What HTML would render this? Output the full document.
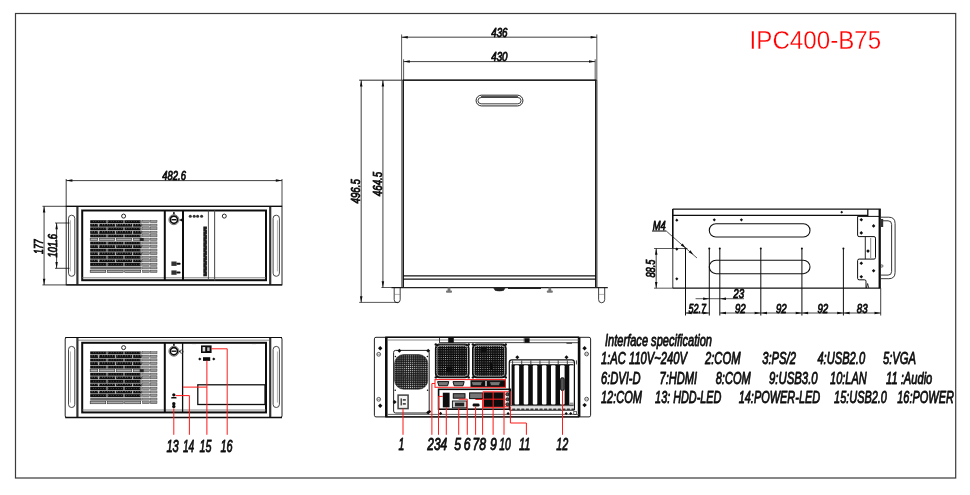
<!DOCTYPE html>
<html lang="en">
<head>
<meta charset="utf-8">
<title>IPC400-B75</title>
<style>
html,body{margin:0;padding:0;background:#fff;}
body{width:970px;height:495px;overflow:hidden;}
svg{display:block;}
.t{font-family:"Liberation Sans","DejaVu Sans",sans-serif;font-style:italic;fill:#111;stroke:#111;stroke-width:0.85px;stroke-linejoin:round;}
.title{font-family:"Liberation Sans","DejaVu Sans",sans-serif;fill:#ff0000;stroke:#fff;stroke-width:0.3px;}
</style>
</head>
<body>
<svg width="970" height="495" viewBox="0 0 970 495">
<rect x="0" y="0" width="970" height="495" fill="#ffffff"/>
<defs><filter id="soft" x="0" y="0" width="970" height="495" filterUnits="userSpaceOnUse"><feGaussianBlur stdDeviation="0.45"/></filter><filter id="soft2" x="700" y="15" width="230" height="50" filterUnits="userSpaceOnUse"><feGaussianBlur stdDeviation="0.3"/></filter></defs>
<g filter="url(#soft)">
<rect x="15.50" y="13.50" width="940.20" height="464.50" rx="0" stroke="#3a3a3a" stroke-width="1.2" fill="none" />
<rect x="66.20" y="206.30" width="215.80" height="78.60" rx="0" stroke="#222" stroke-width="1.0" fill="none" />
<line x1="77.40" y1="206.30" x2="77.40" y2="284.90" stroke="#333" stroke-width="2.2" />
<line x1="270.20" y1="206.30" x2="270.20" y2="284.90" stroke="#333" stroke-width="2.2" />
<line x1="66.20" y1="206.30" x2="282.00" y2="206.30" stroke="#111" stroke-width="1.2" />
<line x1="66.20" y1="284.90" x2="282.00" y2="284.90" stroke="#111" stroke-width="1.3" />
<rect x="68.50" y="215.20" width="6.30" height="61.10" rx="3.1" stroke="#333" stroke-width="0.9" fill="none" />
<rect x="273.10" y="215.20" width="6.30" height="61.10" rx="3.1" stroke="#333" stroke-width="0.9" fill="none" />
<line x1="70.40" y1="220.30" x2="70.40" y2="271.30" stroke="#777" stroke-width="0.6" />
<line x1="277.40" y1="220.30" x2="277.40" y2="271.30" stroke="#777" stroke-width="0.6" />
<rect x="82.20" y="210.50" width="183.80" height="69.70" rx="0" stroke="#111" stroke-width="2.0" fill="none" />
<line x1="82.20" y1="277.80" x2="266.00" y2="277.80" stroke="#666" stroke-width="0.8" />
<line x1="164.80" y1="210.50" x2="164.80" y2="280.20" stroke="#111" stroke-width="2.0" />
<circle cx="123.60" cy="216.10" r="2.0" stroke="#111" stroke-width="0.9" fill="none"/>
<rect x="90.20" y="220.20" width="51.50" height="3.00" rx="0" fill="#111"/>
<rect x="106.60" y="220.20" width="0.80" height="3.00" rx="0" fill="#e8e8e8"/>
<rect x="123.60" y="220.20" width="0.80" height="3.00" rx="0" fill="#e8e8e8"/>
<rect x="140.60" y="220.20" width="0.80" height="3.00" rx="0" fill="#e8e8e8"/>
<rect x="93.00" y="221.20" width="0.60" height="0.70" rx="0" fill="#888"/>
<rect x="95.55" y="221.20" width="0.60" height="0.70" rx="0" fill="#888"/>
<rect x="98.10" y="221.20" width="0.60" height="0.70" rx="0" fill="#888"/>
<rect x="100.65" y="221.20" width="0.60" height="0.70" rx="0" fill="#888"/>
<rect x="103.20" y="221.20" width="0.60" height="0.70" rx="0" fill="#888"/>
<rect x="105.75" y="221.20" width="0.60" height="0.70" rx="0" fill="#888"/>
<rect x="108.30" y="221.20" width="0.60" height="0.70" rx="0" fill="#888"/>
<rect x="110.85" y="221.20" width="0.60" height="0.70" rx="0" fill="#888"/>
<rect x="113.40" y="221.20" width="0.60" height="0.70" rx="0" fill="#888"/>
<rect x="115.95" y="221.20" width="0.60" height="0.70" rx="0" fill="#888"/>
<rect x="118.50" y="221.20" width="0.60" height="0.70" rx="0" fill="#888"/>
<rect x="121.05" y="221.20" width="0.60" height="0.70" rx="0" fill="#888"/>
<rect x="123.60" y="221.20" width="0.60" height="0.70" rx="0" fill="#888"/>
<rect x="126.15" y="221.20" width="0.60" height="0.70" rx="0" fill="#888"/>
<rect x="128.70" y="221.20" width="0.60" height="0.70" rx="0" fill="#888"/>
<rect x="131.25" y="221.20" width="0.60" height="0.70" rx="0" fill="#888"/>
<rect x="133.80" y="221.20" width="0.60" height="0.70" rx="0" fill="#888"/>
<rect x="136.35" y="221.20" width="0.60" height="0.70" rx="0" fill="#888"/>
<rect x="138.90" y="221.20" width="0.60" height="0.70" rx="0" fill="#888"/>
<rect x="141.45" y="221.20" width="0.60" height="0.70" rx="0" fill="#888"/>
<rect x="142.50" y="220.50" width="6.90" height="2.20" rx="0" stroke="#444" stroke-width="0.5" fill="#999" />
<rect x="150.40" y="220.50" width="6.60" height="2.20" rx="0" stroke="#444" stroke-width="0.5" fill="#999" />
<rect x="90.20" y="223.76" width="51.50" height="3.00" rx="0" fill="#111"/>
<rect x="98.30" y="223.76" width="0.80" height="3.00" rx="0" fill="#e8e8e8"/>
<rect x="115.30" y="223.76" width="0.80" height="3.00" rx="0" fill="#e8e8e8"/>
<rect x="132.30" y="223.76" width="0.80" height="3.00" rx="0" fill="#e8e8e8"/>
<rect x="91.80" y="223.96" width="0.55" height="1.30" rx="0" fill="#999"/>
<rect x="94.35" y="223.96" width="0.55" height="1.30" rx="0" fill="#999"/>
<rect x="96.90" y="223.96" width="0.55" height="1.30" rx="0" fill="#999"/>
<rect x="99.45" y="223.96" width="0.55" height="1.30" rx="0" fill="#999"/>
<rect x="102.00" y="223.96" width="0.55" height="1.30" rx="0" fill="#999"/>
<rect x="104.55" y="223.96" width="0.55" height="1.30" rx="0" fill="#999"/>
<rect x="107.10" y="223.96" width="0.55" height="1.30" rx="0" fill="#999"/>
<rect x="109.65" y="223.96" width="0.55" height="1.30" rx="0" fill="#999"/>
<rect x="112.20" y="223.96" width="0.55" height="1.30" rx="0" fill="#999"/>
<rect x="114.75" y="223.96" width="0.55" height="1.30" rx="0" fill="#999"/>
<rect x="117.30" y="223.96" width="0.55" height="1.30" rx="0" fill="#999"/>
<rect x="119.85" y="223.96" width="0.55" height="1.30" rx="0" fill="#999"/>
<rect x="122.40" y="223.96" width="0.55" height="1.30" rx="0" fill="#999"/>
<rect x="124.95" y="223.96" width="0.55" height="1.30" rx="0" fill="#999"/>
<rect x="127.50" y="223.96" width="0.55" height="1.30" rx="0" fill="#999"/>
<rect x="130.05" y="223.96" width="0.55" height="1.30" rx="0" fill="#999"/>
<rect x="132.60" y="223.96" width="0.55" height="1.30" rx="0" fill="#999"/>
<rect x="135.15" y="223.96" width="0.55" height="1.30" rx="0" fill="#999"/>
<rect x="137.70" y="223.96" width="0.55" height="1.30" rx="0" fill="#999"/>
<rect x="140.25" y="223.96" width="0.55" height="1.30" rx="0" fill="#999"/>
<rect x="142.50" y="224.06" width="6.90" height="2.20" rx="0" stroke="#444" stroke-width="0.5" fill="#999" />
<rect x="150.40" y="224.06" width="6.60" height="2.20" rx="0" stroke="#444" stroke-width="0.5" fill="#999" />
<rect x="90.20" y="227.32" width="51.50" height="3.00" rx="0" fill="#111"/>
<rect x="106.60" y="227.32" width="0.80" height="3.00" rx="0" fill="#e8e8e8"/>
<rect x="123.60" y="227.32" width="0.80" height="3.00" rx="0" fill="#e8e8e8"/>
<rect x="140.60" y="227.32" width="0.80" height="3.00" rx="0" fill="#e8e8e8"/>
<rect x="93.00" y="228.32" width="0.60" height="0.70" rx="0" fill="#888"/>
<rect x="95.55" y="228.32" width="0.60" height="0.70" rx="0" fill="#888"/>
<rect x="98.10" y="228.32" width="0.60" height="0.70" rx="0" fill="#888"/>
<rect x="100.65" y="228.32" width="0.60" height="0.70" rx="0" fill="#888"/>
<rect x="103.20" y="228.32" width="0.60" height="0.70" rx="0" fill="#888"/>
<rect x="105.75" y="228.32" width="0.60" height="0.70" rx="0" fill="#888"/>
<rect x="108.30" y="228.32" width="0.60" height="0.70" rx="0" fill="#888"/>
<rect x="110.85" y="228.32" width="0.60" height="0.70" rx="0" fill="#888"/>
<rect x="113.40" y="228.32" width="0.60" height="0.70" rx="0" fill="#888"/>
<rect x="115.95" y="228.32" width="0.60" height="0.70" rx="0" fill="#888"/>
<rect x="118.50" y="228.32" width="0.60" height="0.70" rx="0" fill="#888"/>
<rect x="121.05" y="228.32" width="0.60" height="0.70" rx="0" fill="#888"/>
<rect x="123.60" y="228.32" width="0.60" height="0.70" rx="0" fill="#888"/>
<rect x="126.15" y="228.32" width="0.60" height="0.70" rx="0" fill="#888"/>
<rect x="128.70" y="228.32" width="0.60" height="0.70" rx="0" fill="#888"/>
<rect x="131.25" y="228.32" width="0.60" height="0.70" rx="0" fill="#888"/>
<rect x="133.80" y="228.32" width="0.60" height="0.70" rx="0" fill="#888"/>
<rect x="136.35" y="228.32" width="0.60" height="0.70" rx="0" fill="#888"/>
<rect x="138.90" y="228.32" width="0.60" height="0.70" rx="0" fill="#888"/>
<rect x="141.45" y="228.32" width="0.60" height="0.70" rx="0" fill="#888"/>
<rect x="142.50" y="227.62" width="6.90" height="2.20" rx="0" stroke="#444" stroke-width="0.5" fill="#999" />
<rect x="150.40" y="227.62" width="6.60" height="2.20" rx="0" stroke="#444" stroke-width="0.5" fill="#999" />
<rect x="90.20" y="230.88" width="51.50" height="3.00" rx="0" fill="#111"/>
<rect x="98.30" y="230.88" width="0.80" height="3.00" rx="0" fill="#e8e8e8"/>
<rect x="115.30" y="230.88" width="0.80" height="3.00" rx="0" fill="#e8e8e8"/>
<rect x="132.30" y="230.88" width="0.80" height="3.00" rx="0" fill="#e8e8e8"/>
<rect x="91.80" y="231.08" width="0.55" height="1.30" rx="0" fill="#999"/>
<rect x="94.35" y="231.08" width="0.55" height="1.30" rx="0" fill="#999"/>
<rect x="96.90" y="231.08" width="0.55" height="1.30" rx="0" fill="#999"/>
<rect x="99.45" y="231.08" width="0.55" height="1.30" rx="0" fill="#999"/>
<rect x="102.00" y="231.08" width="0.55" height="1.30" rx="0" fill="#999"/>
<rect x="104.55" y="231.08" width="0.55" height="1.30" rx="0" fill="#999"/>
<rect x="107.10" y="231.08" width="0.55" height="1.30" rx="0" fill="#999"/>
<rect x="109.65" y="231.08" width="0.55" height="1.30" rx="0" fill="#999"/>
<rect x="112.20" y="231.08" width="0.55" height="1.30" rx="0" fill="#999"/>
<rect x="114.75" y="231.08" width="0.55" height="1.30" rx="0" fill="#999"/>
<rect x="117.30" y="231.08" width="0.55" height="1.30" rx="0" fill="#999"/>
<rect x="119.85" y="231.08" width="0.55" height="1.30" rx="0" fill="#999"/>
<rect x="122.40" y="231.08" width="0.55" height="1.30" rx="0" fill="#999"/>
<rect x="124.95" y="231.08" width="0.55" height="1.30" rx="0" fill="#999"/>
<rect x="127.50" y="231.08" width="0.55" height="1.30" rx="0" fill="#999"/>
<rect x="130.05" y="231.08" width="0.55" height="1.30" rx="0" fill="#999"/>
<rect x="132.60" y="231.08" width="0.55" height="1.30" rx="0" fill="#999"/>
<rect x="135.15" y="231.08" width="0.55" height="1.30" rx="0" fill="#999"/>
<rect x="137.70" y="231.08" width="0.55" height="1.30" rx="0" fill="#999"/>
<rect x="140.25" y="231.08" width="0.55" height="1.30" rx="0" fill="#999"/>
<rect x="142.50" y="231.18" width="6.90" height="2.20" rx="0" stroke="#444" stroke-width="0.5" fill="#999" />
<rect x="150.40" y="231.18" width="6.60" height="2.20" rx="0" stroke="#444" stroke-width="0.5" fill="#999" />
<rect x="90.20" y="234.44" width="51.50" height="3.00" rx="0" fill="#111"/>
<rect x="106.60" y="234.44" width="0.80" height="3.00" rx="0" fill="#e8e8e8"/>
<rect x="123.60" y="234.44" width="0.80" height="3.00" rx="0" fill="#e8e8e8"/>
<rect x="140.60" y="234.44" width="0.80" height="3.00" rx="0" fill="#e8e8e8"/>
<rect x="93.00" y="235.44" width="0.60" height="0.70" rx="0" fill="#888"/>
<rect x="95.55" y="235.44" width="0.60" height="0.70" rx="0" fill="#888"/>
<rect x="98.10" y="235.44" width="0.60" height="0.70" rx="0" fill="#888"/>
<rect x="100.65" y="235.44" width="0.60" height="0.70" rx="0" fill="#888"/>
<rect x="103.20" y="235.44" width="0.60" height="0.70" rx="0" fill="#888"/>
<rect x="105.75" y="235.44" width="0.60" height="0.70" rx="0" fill="#888"/>
<rect x="108.30" y="235.44" width="0.60" height="0.70" rx="0" fill="#888"/>
<rect x="110.85" y="235.44" width="0.60" height="0.70" rx="0" fill="#888"/>
<rect x="113.40" y="235.44" width="0.60" height="0.70" rx="0" fill="#888"/>
<rect x="115.95" y="235.44" width="0.60" height="0.70" rx="0" fill="#888"/>
<rect x="118.50" y="235.44" width="0.60" height="0.70" rx="0" fill="#888"/>
<rect x="121.05" y="235.44" width="0.60" height="0.70" rx="0" fill="#888"/>
<rect x="123.60" y="235.44" width="0.60" height="0.70" rx="0" fill="#888"/>
<rect x="126.15" y="235.44" width="0.60" height="0.70" rx="0" fill="#888"/>
<rect x="128.70" y="235.44" width="0.60" height="0.70" rx="0" fill="#888"/>
<rect x="131.25" y="235.44" width="0.60" height="0.70" rx="0" fill="#888"/>
<rect x="133.80" y="235.44" width="0.60" height="0.70" rx="0" fill="#888"/>
<rect x="136.35" y="235.44" width="0.60" height="0.70" rx="0" fill="#888"/>
<rect x="138.90" y="235.44" width="0.60" height="0.70" rx="0" fill="#888"/>
<rect x="141.45" y="235.44" width="0.60" height="0.70" rx="0" fill="#888"/>
<rect x="142.50" y="234.74" width="6.90" height="2.20" rx="0" stroke="#444" stroke-width="0.5" fill="#999" />
<rect x="150.40" y="234.74" width="6.60" height="2.20" rx="0" stroke="#444" stroke-width="0.5" fill="#999" />
<rect x="90.20" y="238.30" width="7.50" height="2.20" rx="0" stroke="#333" stroke-width="0.6" fill="#aaa" />
<rect x="99.20" y="238.30" width="15.50" height="2.20" rx="0" stroke="#333" stroke-width="0.6" fill="#aaa" />
<rect x="116.20" y="238.30" width="15.50" height="2.20" rx="0" stroke="#333" stroke-width="0.6" fill="#aaa" />
<rect x="133.20" y="238.30" width="8.00" height="2.20" rx="0" stroke="#333" stroke-width="0.6" fill="#aaa" />
<rect x="142.50" y="238.30" width="6.90" height="2.20" rx="0" stroke="#444" stroke-width="0.5" fill="#999" />
<rect x="150.40" y="238.30" width="6.60" height="2.20" rx="0" stroke="#444" stroke-width="0.5" fill="#999" />
<rect x="90.20" y="241.56" width="51.50" height="3.00" rx="0" fill="#111"/>
<rect x="106.60" y="241.56" width="0.80" height="3.00" rx="0" fill="#e8e8e8"/>
<rect x="123.60" y="241.56" width="0.80" height="3.00" rx="0" fill="#e8e8e8"/>
<rect x="140.60" y="241.56" width="0.80" height="3.00" rx="0" fill="#e8e8e8"/>
<rect x="93.00" y="242.56" width="0.60" height="0.70" rx="0" fill="#888"/>
<rect x="95.55" y="242.56" width="0.60" height="0.70" rx="0" fill="#888"/>
<rect x="98.10" y="242.56" width="0.60" height="0.70" rx="0" fill="#888"/>
<rect x="100.65" y="242.56" width="0.60" height="0.70" rx="0" fill="#888"/>
<rect x="103.20" y="242.56" width="0.60" height="0.70" rx="0" fill="#888"/>
<rect x="105.75" y="242.56" width="0.60" height="0.70" rx="0" fill="#888"/>
<rect x="108.30" y="242.56" width="0.60" height="0.70" rx="0" fill="#888"/>
<rect x="110.85" y="242.56" width="0.60" height="0.70" rx="0" fill="#888"/>
<rect x="113.40" y="242.56" width="0.60" height="0.70" rx="0" fill="#888"/>
<rect x="115.95" y="242.56" width="0.60" height="0.70" rx="0" fill="#888"/>
<rect x="118.50" y="242.56" width="0.60" height="0.70" rx="0" fill="#888"/>
<rect x="121.05" y="242.56" width="0.60" height="0.70" rx="0" fill="#888"/>
<rect x="123.60" y="242.56" width="0.60" height="0.70" rx="0" fill="#888"/>
<rect x="126.15" y="242.56" width="0.60" height="0.70" rx="0" fill="#888"/>
<rect x="128.70" y="242.56" width="0.60" height="0.70" rx="0" fill="#888"/>
<rect x="131.25" y="242.56" width="0.60" height="0.70" rx="0" fill="#888"/>
<rect x="133.80" y="242.56" width="0.60" height="0.70" rx="0" fill="#888"/>
<rect x="136.35" y="242.56" width="0.60" height="0.70" rx="0" fill="#888"/>
<rect x="138.90" y="242.56" width="0.60" height="0.70" rx="0" fill="#888"/>
<rect x="141.45" y="242.56" width="0.60" height="0.70" rx="0" fill="#888"/>
<rect x="142.50" y="241.86" width="6.90" height="2.20" rx="0" stroke="#444" stroke-width="0.5" fill="#999" />
<rect x="150.40" y="241.86" width="6.60" height="2.20" rx="0" stroke="#444" stroke-width="0.5" fill="#999" />
<rect x="90.20" y="245.12" width="51.50" height="3.00" rx="0" fill="#111"/>
<rect x="98.30" y="245.12" width="0.80" height="3.00" rx="0" fill="#e8e8e8"/>
<rect x="115.30" y="245.12" width="0.80" height="3.00" rx="0" fill="#e8e8e8"/>
<rect x="132.30" y="245.12" width="0.80" height="3.00" rx="0" fill="#e8e8e8"/>
<rect x="91.80" y="245.32" width="0.55" height="1.30" rx="0" fill="#999"/>
<rect x="94.35" y="245.32" width="0.55" height="1.30" rx="0" fill="#999"/>
<rect x="96.90" y="245.32" width="0.55" height="1.30" rx="0" fill="#999"/>
<rect x="99.45" y="245.32" width="0.55" height="1.30" rx="0" fill="#999"/>
<rect x="102.00" y="245.32" width="0.55" height="1.30" rx="0" fill="#999"/>
<rect x="104.55" y="245.32" width="0.55" height="1.30" rx="0" fill="#999"/>
<rect x="107.10" y="245.32" width="0.55" height="1.30" rx="0" fill="#999"/>
<rect x="109.65" y="245.32" width="0.55" height="1.30" rx="0" fill="#999"/>
<rect x="112.20" y="245.32" width="0.55" height="1.30" rx="0" fill="#999"/>
<rect x="114.75" y="245.32" width="0.55" height="1.30" rx="0" fill="#999"/>
<rect x="117.30" y="245.32" width="0.55" height="1.30" rx="0" fill="#999"/>
<rect x="119.85" y="245.32" width="0.55" height="1.30" rx="0" fill="#999"/>
<rect x="122.40" y="245.32" width="0.55" height="1.30" rx="0" fill="#999"/>
<rect x="124.95" y="245.32" width="0.55" height="1.30" rx="0" fill="#999"/>
<rect x="127.50" y="245.32" width="0.55" height="1.30" rx="0" fill="#999"/>
<rect x="130.05" y="245.32" width="0.55" height="1.30" rx="0" fill="#999"/>
<rect x="132.60" y="245.32" width="0.55" height="1.30" rx="0" fill="#999"/>
<rect x="135.15" y="245.32" width="0.55" height="1.30" rx="0" fill="#999"/>
<rect x="137.70" y="245.32" width="0.55" height="1.30" rx="0" fill="#999"/>
<rect x="140.25" y="245.32" width="0.55" height="1.30" rx="0" fill="#999"/>
<rect x="142.50" y="245.42" width="6.90" height="2.20" rx="0" stroke="#444" stroke-width="0.5" fill="#999" />
<rect x="150.40" y="245.42" width="6.60" height="2.20" rx="0" stroke="#444" stroke-width="0.5" fill="#999" />
<rect x="90.20" y="248.68" width="51.50" height="3.00" rx="0" fill="#111"/>
<rect x="106.60" y="248.68" width="0.80" height="3.00" rx="0" fill="#e8e8e8"/>
<rect x="123.60" y="248.68" width="0.80" height="3.00" rx="0" fill="#e8e8e8"/>
<rect x="140.60" y="248.68" width="0.80" height="3.00" rx="0" fill="#e8e8e8"/>
<rect x="93.00" y="249.68" width="0.60" height="0.70" rx="0" fill="#888"/>
<rect x="95.55" y="249.68" width="0.60" height="0.70" rx="0" fill="#888"/>
<rect x="98.10" y="249.68" width="0.60" height="0.70" rx="0" fill="#888"/>
<rect x="100.65" y="249.68" width="0.60" height="0.70" rx="0" fill="#888"/>
<rect x="103.20" y="249.68" width="0.60" height="0.70" rx="0" fill="#888"/>
<rect x="105.75" y="249.68" width="0.60" height="0.70" rx="0" fill="#888"/>
<rect x="108.30" y="249.68" width="0.60" height="0.70" rx="0" fill="#888"/>
<rect x="110.85" y="249.68" width="0.60" height="0.70" rx="0" fill="#888"/>
<rect x="113.40" y="249.68" width="0.60" height="0.70" rx="0" fill="#888"/>
<rect x="115.95" y="249.68" width="0.60" height="0.70" rx="0" fill="#888"/>
<rect x="118.50" y="249.68" width="0.60" height="0.70" rx="0" fill="#888"/>
<rect x="121.05" y="249.68" width="0.60" height="0.70" rx="0" fill="#888"/>
<rect x="123.60" y="249.68" width="0.60" height="0.70" rx="0" fill="#888"/>
<rect x="126.15" y="249.68" width="0.60" height="0.70" rx="0" fill="#888"/>
<rect x="128.70" y="249.68" width="0.60" height="0.70" rx="0" fill="#888"/>
<rect x="131.25" y="249.68" width="0.60" height="0.70" rx="0" fill="#888"/>
<rect x="133.80" y="249.68" width="0.60" height="0.70" rx="0" fill="#888"/>
<rect x="136.35" y="249.68" width="0.60" height="0.70" rx="0" fill="#888"/>
<rect x="138.90" y="249.68" width="0.60" height="0.70" rx="0" fill="#888"/>
<rect x="141.45" y="249.68" width="0.60" height="0.70" rx="0" fill="#888"/>
<rect x="142.50" y="248.98" width="6.90" height="2.20" rx="0" stroke="#444" stroke-width="0.5" fill="#999" />
<rect x="150.40" y="248.98" width="6.60" height="2.20" rx="0" stroke="#444" stroke-width="0.5" fill="#999" />
<rect x="90.20" y="252.24" width="51.50" height="3.00" rx="0" fill="#111"/>
<rect x="98.30" y="252.24" width="0.80" height="3.00" rx="0" fill="#e8e8e8"/>
<rect x="115.30" y="252.24" width="0.80" height="3.00" rx="0" fill="#e8e8e8"/>
<rect x="132.30" y="252.24" width="0.80" height="3.00" rx="0" fill="#e8e8e8"/>
<rect x="91.80" y="252.44" width="0.55" height="1.30" rx="0" fill="#999"/>
<rect x="94.35" y="252.44" width="0.55" height="1.30" rx="0" fill="#999"/>
<rect x="96.90" y="252.44" width="0.55" height="1.30" rx="0" fill="#999"/>
<rect x="99.45" y="252.44" width="0.55" height="1.30" rx="0" fill="#999"/>
<rect x="102.00" y="252.44" width="0.55" height="1.30" rx="0" fill="#999"/>
<rect x="104.55" y="252.44" width="0.55" height="1.30" rx="0" fill="#999"/>
<rect x="107.10" y="252.44" width="0.55" height="1.30" rx="0" fill="#999"/>
<rect x="109.65" y="252.44" width="0.55" height="1.30" rx="0" fill="#999"/>
<rect x="112.20" y="252.44" width="0.55" height="1.30" rx="0" fill="#999"/>
<rect x="114.75" y="252.44" width="0.55" height="1.30" rx="0" fill="#999"/>
<rect x="117.30" y="252.44" width="0.55" height="1.30" rx="0" fill="#999"/>
<rect x="119.85" y="252.44" width="0.55" height="1.30" rx="0" fill="#999"/>
<rect x="122.40" y="252.44" width="0.55" height="1.30" rx="0" fill="#999"/>
<rect x="124.95" y="252.44" width="0.55" height="1.30" rx="0" fill="#999"/>
<rect x="127.50" y="252.44" width="0.55" height="1.30" rx="0" fill="#999"/>
<rect x="130.05" y="252.44" width="0.55" height="1.30" rx="0" fill="#999"/>
<rect x="132.60" y="252.44" width="0.55" height="1.30" rx="0" fill="#999"/>
<rect x="135.15" y="252.44" width="0.55" height="1.30" rx="0" fill="#999"/>
<rect x="137.70" y="252.44" width="0.55" height="1.30" rx="0" fill="#999"/>
<rect x="140.25" y="252.44" width="0.55" height="1.30" rx="0" fill="#999"/>
<rect x="142.50" y="252.54" width="6.90" height="2.20" rx="0" stroke="#444" stroke-width="0.5" fill="#999" />
<rect x="150.40" y="252.54" width="6.60" height="2.20" rx="0" stroke="#444" stroke-width="0.5" fill="#999" />
<rect x="90.20" y="255.80" width="51.50" height="3.00" rx="0" fill="#111"/>
<rect x="106.60" y="255.80" width="0.80" height="3.00" rx="0" fill="#e8e8e8"/>
<rect x="123.60" y="255.80" width="0.80" height="3.00" rx="0" fill="#e8e8e8"/>
<rect x="140.60" y="255.80" width="0.80" height="3.00" rx="0" fill="#e8e8e8"/>
<rect x="93.00" y="256.80" width="0.60" height="0.70" rx="0" fill="#888"/>
<rect x="95.55" y="256.80" width="0.60" height="0.70" rx="0" fill="#888"/>
<rect x="98.10" y="256.80" width="0.60" height="0.70" rx="0" fill="#888"/>
<rect x="100.65" y="256.80" width="0.60" height="0.70" rx="0" fill="#888"/>
<rect x="103.20" y="256.80" width="0.60" height="0.70" rx="0" fill="#888"/>
<rect x="105.75" y="256.80" width="0.60" height="0.70" rx="0" fill="#888"/>
<rect x="108.30" y="256.80" width="0.60" height="0.70" rx="0" fill="#888"/>
<rect x="110.85" y="256.80" width="0.60" height="0.70" rx="0" fill="#888"/>
<rect x="113.40" y="256.80" width="0.60" height="0.70" rx="0" fill="#888"/>
<rect x="115.95" y="256.80" width="0.60" height="0.70" rx="0" fill="#888"/>
<rect x="118.50" y="256.80" width="0.60" height="0.70" rx="0" fill="#888"/>
<rect x="121.05" y="256.80" width="0.60" height="0.70" rx="0" fill="#888"/>
<rect x="123.60" y="256.80" width="0.60" height="0.70" rx="0" fill="#888"/>
<rect x="126.15" y="256.80" width="0.60" height="0.70" rx="0" fill="#888"/>
<rect x="128.70" y="256.80" width="0.60" height="0.70" rx="0" fill="#888"/>
<rect x="131.25" y="256.80" width="0.60" height="0.70" rx="0" fill="#888"/>
<rect x="133.80" y="256.80" width="0.60" height="0.70" rx="0" fill="#888"/>
<rect x="136.35" y="256.80" width="0.60" height="0.70" rx="0" fill="#888"/>
<rect x="138.90" y="256.80" width="0.60" height="0.70" rx="0" fill="#888"/>
<rect x="141.45" y="256.80" width="0.60" height="0.70" rx="0" fill="#888"/>
<rect x="142.50" y="256.10" width="6.90" height="2.20" rx="0" stroke="#444" stroke-width="0.5" fill="#999" />
<rect x="150.40" y="256.10" width="6.60" height="2.20" rx="0" stroke="#444" stroke-width="0.5" fill="#999" />
<rect x="90.20" y="259.36" width="51.50" height="3.00" rx="0" fill="#111"/>
<rect x="98.30" y="259.36" width="0.80" height="3.00" rx="0" fill="#e8e8e8"/>
<rect x="115.30" y="259.36" width="0.80" height="3.00" rx="0" fill="#e8e8e8"/>
<rect x="132.30" y="259.36" width="0.80" height="3.00" rx="0" fill="#e8e8e8"/>
<rect x="91.80" y="259.56" width="0.55" height="1.30" rx="0" fill="#999"/>
<rect x="94.35" y="259.56" width="0.55" height="1.30" rx="0" fill="#999"/>
<rect x="96.90" y="259.56" width="0.55" height="1.30" rx="0" fill="#999"/>
<rect x="99.45" y="259.56" width="0.55" height="1.30" rx="0" fill="#999"/>
<rect x="102.00" y="259.56" width="0.55" height="1.30" rx="0" fill="#999"/>
<rect x="104.55" y="259.56" width="0.55" height="1.30" rx="0" fill="#999"/>
<rect x="107.10" y="259.56" width="0.55" height="1.30" rx="0" fill="#999"/>
<rect x="109.65" y="259.56" width="0.55" height="1.30" rx="0" fill="#999"/>
<rect x="112.20" y="259.56" width="0.55" height="1.30" rx="0" fill="#999"/>
<rect x="114.75" y="259.56" width="0.55" height="1.30" rx="0" fill="#999"/>
<rect x="117.30" y="259.56" width="0.55" height="1.30" rx="0" fill="#999"/>
<rect x="119.85" y="259.56" width="0.55" height="1.30" rx="0" fill="#999"/>
<rect x="122.40" y="259.56" width="0.55" height="1.30" rx="0" fill="#999"/>
<rect x="124.95" y="259.56" width="0.55" height="1.30" rx="0" fill="#999"/>
<rect x="127.50" y="259.56" width="0.55" height="1.30" rx="0" fill="#999"/>
<rect x="130.05" y="259.56" width="0.55" height="1.30" rx="0" fill="#999"/>
<rect x="132.60" y="259.56" width="0.55" height="1.30" rx="0" fill="#999"/>
<rect x="135.15" y="259.56" width="0.55" height="1.30" rx="0" fill="#999"/>
<rect x="137.70" y="259.56" width="0.55" height="1.30" rx="0" fill="#999"/>
<rect x="140.25" y="259.56" width="0.55" height="1.30" rx="0" fill="#999"/>
<rect x="142.50" y="259.66" width="6.90" height="2.20" rx="0" stroke="#444" stroke-width="0.5" fill="#999" />
<rect x="150.40" y="259.66" width="6.60" height="2.20" rx="0" stroke="#444" stroke-width="0.5" fill="#999" />
<rect x="90.20" y="262.92" width="51.50" height="3.00" rx="0" fill="#111"/>
<rect x="106.60" y="262.92" width="0.80" height="3.00" rx="0" fill="#e8e8e8"/>
<rect x="123.60" y="262.92" width="0.80" height="3.00" rx="0" fill="#e8e8e8"/>
<rect x="140.60" y="262.92" width="0.80" height="3.00" rx="0" fill="#e8e8e8"/>
<rect x="93.00" y="263.92" width="0.60" height="0.70" rx="0" fill="#888"/>
<rect x="95.55" y="263.92" width="0.60" height="0.70" rx="0" fill="#888"/>
<rect x="98.10" y="263.92" width="0.60" height="0.70" rx="0" fill="#888"/>
<rect x="100.65" y="263.92" width="0.60" height="0.70" rx="0" fill="#888"/>
<rect x="103.20" y="263.92" width="0.60" height="0.70" rx="0" fill="#888"/>
<rect x="105.75" y="263.92" width="0.60" height="0.70" rx="0" fill="#888"/>
<rect x="108.30" y="263.92" width="0.60" height="0.70" rx="0" fill="#888"/>
<rect x="110.85" y="263.92" width="0.60" height="0.70" rx="0" fill="#888"/>
<rect x="113.40" y="263.92" width="0.60" height="0.70" rx="0" fill="#888"/>
<rect x="115.95" y="263.92" width="0.60" height="0.70" rx="0" fill="#888"/>
<rect x="118.50" y="263.92" width="0.60" height="0.70" rx="0" fill="#888"/>
<rect x="121.05" y="263.92" width="0.60" height="0.70" rx="0" fill="#888"/>
<rect x="123.60" y="263.92" width="0.60" height="0.70" rx="0" fill="#888"/>
<rect x="126.15" y="263.92" width="0.60" height="0.70" rx="0" fill="#888"/>
<rect x="128.70" y="263.92" width="0.60" height="0.70" rx="0" fill="#888"/>
<rect x="131.25" y="263.92" width="0.60" height="0.70" rx="0" fill="#888"/>
<rect x="133.80" y="263.92" width="0.60" height="0.70" rx="0" fill="#888"/>
<rect x="136.35" y="263.92" width="0.60" height="0.70" rx="0" fill="#888"/>
<rect x="138.90" y="263.92" width="0.60" height="0.70" rx="0" fill="#888"/>
<rect x="141.45" y="263.92" width="0.60" height="0.70" rx="0" fill="#888"/>
<rect x="142.50" y="263.22" width="6.90" height="2.20" rx="0" stroke="#444" stroke-width="0.5" fill="#999" />
<rect x="150.40" y="263.22" width="6.60" height="2.20" rx="0" stroke="#444" stroke-width="0.5" fill="#999" />
<rect x="90.20" y="266.48" width="51.50" height="3.00" rx="0" fill="#666"/>
<rect x="142.50" y="266.78" width="6.90" height="2.20" rx="0" stroke="#444" stroke-width="0.5" fill="#999" />
<rect x="150.40" y="266.78" width="6.60" height="2.20" rx="0" stroke="#444" stroke-width="0.5" fill="#999" />
<rect x="90.20" y="270.34" width="15.50" height="2.20" rx="0" stroke="#333" stroke-width="0.6" fill="#aaa" />
<rect x="107.20" y="270.34" width="16.00" height="2.20" rx="0" stroke="#333" stroke-width="0.6" fill="#aaa" />
<rect x="124.70" y="270.34" width="16.00" height="2.20" rx="0" stroke="#333" stroke-width="0.6" fill="#aaa" />
<rect x="142.50" y="270.34" width="6.90" height="2.20" rx="0" stroke="#444" stroke-width="0.5" fill="#999" />
<rect x="150.40" y="270.34" width="6.60" height="2.20" rx="0" stroke="#444" stroke-width="0.5" fill="#999" />
<rect x="139.70" y="238.00" width="4.00" height="3.00" rx="0" fill="#222"/>
<line x1="183.00" y1="210.50" x2="183.00" y2="280.20" stroke="#111" stroke-width="2.0" />
<circle cx="173.90" cy="219.70" r="5.0" stroke="#666" stroke-width="0.9" fill="none"/>
<circle cx="173.90" cy="219.70" r="3.6" stroke="#111" stroke-width="1.7" fill="none"/>
<rect x="171.50" y="219.00" width="4.80" height="1.40" rx="0" fill="#111"/>
<rect x="173.10" y="212.10" width="1.60" height="2.20" rx="0" fill="#111"/>
<polygon points="178.90,219.90 182.10,218.40 182.10,221.40" fill="#111"/>
<rect x="171.40" y="261.50" width="5.20" height="4.40" rx="0" fill="#333"/>
<rect x="176.40" y="262.70" width="4.20" height="2.00" rx="0.8" fill="#111"/>
<rect x="171.40" y="270.40" width="5.20" height="4.40" rx="0" fill="#333"/>
<rect x="176.40" y="271.60" width="4.20" height="2.00" rx="0.8" fill="#111"/>
<line x1="208.40" y1="210.50" x2="208.40" y2="280.20" stroke="#444" stroke-width="0.9" />
<line x1="214.60" y1="210.50" x2="214.60" y2="280.20" stroke="#555" stroke-width="1.1" />
<circle cx="190.30" cy="216.20" r="1.5" fill="#333"/>
<circle cx="194.20" cy="216.20" r="1.5" fill="#333"/>
<circle cx="197.60" cy="216.20" r="1.5" fill="#333"/>
<circle cx="201.60" cy="216.20" r="1.5" fill="#333"/>
<rect x="203.30" y="226.50" width="3.60" height="49.80" rx="0" fill="#1a1a1a"/>
<rect x="203.30" y="231.20" width="1.10" height="0.80" rx="0" fill="#aaa"/>
<rect x="205.80" y="229.00" width="1.10" height="0.80" rx="0" fill="#aaa"/>
<rect x="203.30" y="236.40" width="1.10" height="0.80" rx="0" fill="#aaa"/>
<rect x="205.80" y="234.20" width="1.10" height="0.80" rx="0" fill="#aaa"/>
<rect x="203.30" y="241.60" width="1.10" height="0.80" rx="0" fill="#aaa"/>
<rect x="205.80" y="239.40" width="1.10" height="0.80" rx="0" fill="#aaa"/>
<rect x="203.30" y="246.80" width="1.10" height="0.80" rx="0" fill="#aaa"/>
<rect x="205.80" y="244.60" width="1.10" height="0.80" rx="0" fill="#aaa"/>
<rect x="203.30" y="252.00" width="1.10" height="0.80" rx="0" fill="#aaa"/>
<rect x="205.80" y="249.80" width="1.10" height="0.80" rx="0" fill="#aaa"/>
<rect x="203.30" y="257.20" width="1.10" height="0.80" rx="0" fill="#aaa"/>
<rect x="205.80" y="255.00" width="1.10" height="0.80" rx="0" fill="#aaa"/>
<rect x="203.30" y="262.40" width="1.10" height="0.80" rx="0" fill="#aaa"/>
<rect x="205.80" y="260.20" width="1.10" height="0.80" rx="0" fill="#aaa"/>
<rect x="203.30" y="267.60" width="1.10" height="0.80" rx="0" fill="#aaa"/>
<rect x="205.80" y="265.40" width="1.10" height="0.80" rx="0" fill="#aaa"/>
<rect x="203.30" y="272.80" width="1.10" height="0.80" rx="0" fill="#aaa"/>
<rect x="205.80" y="270.60" width="1.10" height="0.80" rx="0" fill="#aaa"/>
<circle cx="224.30" cy="216.10" r="2.0" stroke="#111" stroke-width="0.9" fill="none"/>
<line x1="66.20" y1="179.00" x2="66.20" y2="206.30" stroke="#111" stroke-width="0.8" />
<line x1="282.00" y1="179.00" x2="282.00" y2="206.30" stroke="#111" stroke-width="0.8" />
<line x1="66.20" y1="180.60" x2="282.00" y2="180.60" stroke="#111" stroke-width="0.8" />
<polygon points="66.20,180.60 72.40,179.35 72.40,181.85" fill="#111"/>
<polygon points="282.00,180.60 275.80,179.35 275.80,181.85" fill="#111"/>
<text class="t" x="162.30" y="179.60" font-size="13.2" textLength="23.70" lengthAdjust="spacingAndGlyphs" >482.6</text>
<line x1="42.50" y1="206.30" x2="66.00" y2="206.30" stroke="#111" stroke-width="0.8" />
<line x1="42.50" y1="284.90" x2="66.00" y2="284.90" stroke="#111" stroke-width="0.8" />
<line x1="44.10" y1="206.30" x2="44.10" y2="284.90" stroke="#111" stroke-width="0.8" />
<polygon points="44.10,206.30 42.85,212.50 45.35,212.50" fill="#111"/>
<polygon points="44.10,284.90 42.85,278.70 45.35,278.70" fill="#111"/>
<text class="t" x="43.30" y="254.00" font-size="13.2" textLength="14.80" lengthAdjust="spacingAndGlyphs" transform="rotate(-90 43.30 254.00)" >177</text>
<line x1="55.00" y1="223.00" x2="69.50" y2="223.00" stroke="#111" stroke-width="0.8" />
<line x1="55.00" y1="268.30" x2="69.50" y2="268.30" stroke="#111" stroke-width="0.8" />
<line x1="56.60" y1="223.00" x2="56.60" y2="268.30" stroke="#111" stroke-width="0.8" />
<polygon points="56.60,223.00 55.35,229.20 57.85,229.20" fill="#111"/>
<polygon points="56.60,268.30 55.35,262.10 57.85,262.10" fill="#111"/>
<text class="t" x="56.90" y="257.60" font-size="13.2" textLength="23.70" lengthAdjust="spacingAndGlyphs" transform="rotate(-90 56.90 257.60)" >101.6</text>
<rect x="65.20" y="337.50" width="216.80" height="80.00" rx="1.6" stroke="#222" stroke-width="1.0" fill="none" />
<line x1="77.40" y1="337.50" x2="77.40" y2="417.50" stroke="#333" stroke-width="2.2" />
<line x1="270.20" y1="337.50" x2="270.20" y2="417.50" stroke="#333" stroke-width="2.2" />
<line x1="65.20" y1="337.50" x2="282.00" y2="337.50" stroke="#111" stroke-width="1.2" />
<line x1="65.20" y1="417.50" x2="282.00" y2="417.50" stroke="#111" stroke-width="1.3" />
<rect x="68.50" y="346.40" width="6.30" height="61.10" rx="3.1" stroke="#333" stroke-width="0.9" fill="none" />
<rect x="273.10" y="346.40" width="6.30" height="61.10" rx="3.1" stroke="#333" stroke-width="0.9" fill="none" />
<line x1="70.40" y1="351.50" x2="70.40" y2="402.50" stroke="#777" stroke-width="0.6" />
<line x1="277.40" y1="351.50" x2="277.40" y2="402.50" stroke="#777" stroke-width="0.6" />
<rect x="82.20" y="342.80" width="183.80" height="69.60" rx="0" stroke="#111" stroke-width="2.0" fill="none" />
<line x1="82.20" y1="410.00" x2="266.00" y2="410.00" stroke="#666" stroke-width="0.8" />
<line x1="164.80" y1="342.80" x2="164.80" y2="412.40" stroke="#111" stroke-width="2.0" />
<circle cx="123.60" cy="347.60" r="2.0" stroke="#111" stroke-width="0.9" fill="none"/>
<rect x="90.20" y="351.40" width="51.50" height="3.00" rx="0" fill="#111"/>
<rect x="106.60" y="351.40" width="0.80" height="3.00" rx="0" fill="#e8e8e8"/>
<rect x="123.60" y="351.40" width="0.80" height="3.00" rx="0" fill="#e8e8e8"/>
<rect x="140.60" y="351.40" width="0.80" height="3.00" rx="0" fill="#e8e8e8"/>
<rect x="93.00" y="352.40" width="0.60" height="0.70" rx="0" fill="#888"/>
<rect x="95.55" y="352.40" width="0.60" height="0.70" rx="0" fill="#888"/>
<rect x="98.10" y="352.40" width="0.60" height="0.70" rx="0" fill="#888"/>
<rect x="100.65" y="352.40" width="0.60" height="0.70" rx="0" fill="#888"/>
<rect x="103.20" y="352.40" width="0.60" height="0.70" rx="0" fill="#888"/>
<rect x="105.75" y="352.40" width="0.60" height="0.70" rx="0" fill="#888"/>
<rect x="108.30" y="352.40" width="0.60" height="0.70" rx="0" fill="#888"/>
<rect x="110.85" y="352.40" width="0.60" height="0.70" rx="0" fill="#888"/>
<rect x="113.40" y="352.40" width="0.60" height="0.70" rx="0" fill="#888"/>
<rect x="115.95" y="352.40" width="0.60" height="0.70" rx="0" fill="#888"/>
<rect x="118.50" y="352.40" width="0.60" height="0.70" rx="0" fill="#888"/>
<rect x="121.05" y="352.40" width="0.60" height="0.70" rx="0" fill="#888"/>
<rect x="123.60" y="352.40" width="0.60" height="0.70" rx="0" fill="#888"/>
<rect x="126.15" y="352.40" width="0.60" height="0.70" rx="0" fill="#888"/>
<rect x="128.70" y="352.40" width="0.60" height="0.70" rx="0" fill="#888"/>
<rect x="131.25" y="352.40" width="0.60" height="0.70" rx="0" fill="#888"/>
<rect x="133.80" y="352.40" width="0.60" height="0.70" rx="0" fill="#888"/>
<rect x="136.35" y="352.40" width="0.60" height="0.70" rx="0" fill="#888"/>
<rect x="138.90" y="352.40" width="0.60" height="0.70" rx="0" fill="#888"/>
<rect x="141.45" y="352.40" width="0.60" height="0.70" rx="0" fill="#888"/>
<rect x="142.50" y="351.70" width="6.90" height="2.20" rx="0" stroke="#444" stroke-width="0.5" fill="#999" />
<rect x="150.40" y="351.70" width="6.60" height="2.20" rx="0" stroke="#444" stroke-width="0.5" fill="#999" />
<rect x="90.20" y="354.96" width="51.50" height="3.00" rx="0" fill="#111"/>
<rect x="98.30" y="354.96" width="0.80" height="3.00" rx="0" fill="#e8e8e8"/>
<rect x="115.30" y="354.96" width="0.80" height="3.00" rx="0" fill="#e8e8e8"/>
<rect x="132.30" y="354.96" width="0.80" height="3.00" rx="0" fill="#e8e8e8"/>
<rect x="91.80" y="355.16" width="0.55" height="1.30" rx="0" fill="#999"/>
<rect x="94.35" y="355.16" width="0.55" height="1.30" rx="0" fill="#999"/>
<rect x="96.90" y="355.16" width="0.55" height="1.30" rx="0" fill="#999"/>
<rect x="99.45" y="355.16" width="0.55" height="1.30" rx="0" fill="#999"/>
<rect x="102.00" y="355.16" width="0.55" height="1.30" rx="0" fill="#999"/>
<rect x="104.55" y="355.16" width="0.55" height="1.30" rx="0" fill="#999"/>
<rect x="107.10" y="355.16" width="0.55" height="1.30" rx="0" fill="#999"/>
<rect x="109.65" y="355.16" width="0.55" height="1.30" rx="0" fill="#999"/>
<rect x="112.20" y="355.16" width="0.55" height="1.30" rx="0" fill="#999"/>
<rect x="114.75" y="355.16" width="0.55" height="1.30" rx="0" fill="#999"/>
<rect x="117.30" y="355.16" width="0.55" height="1.30" rx="0" fill="#999"/>
<rect x="119.85" y="355.16" width="0.55" height="1.30" rx="0" fill="#999"/>
<rect x="122.40" y="355.16" width="0.55" height="1.30" rx="0" fill="#999"/>
<rect x="124.95" y="355.16" width="0.55" height="1.30" rx="0" fill="#999"/>
<rect x="127.50" y="355.16" width="0.55" height="1.30" rx="0" fill="#999"/>
<rect x="130.05" y="355.16" width="0.55" height="1.30" rx="0" fill="#999"/>
<rect x="132.60" y="355.16" width="0.55" height="1.30" rx="0" fill="#999"/>
<rect x="135.15" y="355.16" width="0.55" height="1.30" rx="0" fill="#999"/>
<rect x="137.70" y="355.16" width="0.55" height="1.30" rx="0" fill="#999"/>
<rect x="140.25" y="355.16" width="0.55" height="1.30" rx="0" fill="#999"/>
<rect x="142.50" y="355.26" width="6.90" height="2.20" rx="0" stroke="#444" stroke-width="0.5" fill="#999" />
<rect x="150.40" y="355.26" width="6.60" height="2.20" rx="0" stroke="#444" stroke-width="0.5" fill="#999" />
<rect x="90.20" y="358.52" width="51.50" height="3.00" rx="0" fill="#111"/>
<rect x="106.60" y="358.52" width="0.80" height="3.00" rx="0" fill="#e8e8e8"/>
<rect x="123.60" y="358.52" width="0.80" height="3.00" rx="0" fill="#e8e8e8"/>
<rect x="140.60" y="358.52" width="0.80" height="3.00" rx="0" fill="#e8e8e8"/>
<rect x="93.00" y="359.52" width="0.60" height="0.70" rx="0" fill="#888"/>
<rect x="95.55" y="359.52" width="0.60" height="0.70" rx="0" fill="#888"/>
<rect x="98.10" y="359.52" width="0.60" height="0.70" rx="0" fill="#888"/>
<rect x="100.65" y="359.52" width="0.60" height="0.70" rx="0" fill="#888"/>
<rect x="103.20" y="359.52" width="0.60" height="0.70" rx="0" fill="#888"/>
<rect x="105.75" y="359.52" width="0.60" height="0.70" rx="0" fill="#888"/>
<rect x="108.30" y="359.52" width="0.60" height="0.70" rx="0" fill="#888"/>
<rect x="110.85" y="359.52" width="0.60" height="0.70" rx="0" fill="#888"/>
<rect x="113.40" y="359.52" width="0.60" height="0.70" rx="0" fill="#888"/>
<rect x="115.95" y="359.52" width="0.60" height="0.70" rx="0" fill="#888"/>
<rect x="118.50" y="359.52" width="0.60" height="0.70" rx="0" fill="#888"/>
<rect x="121.05" y="359.52" width="0.60" height="0.70" rx="0" fill="#888"/>
<rect x="123.60" y="359.52" width="0.60" height="0.70" rx="0" fill="#888"/>
<rect x="126.15" y="359.52" width="0.60" height="0.70" rx="0" fill="#888"/>
<rect x="128.70" y="359.52" width="0.60" height="0.70" rx="0" fill="#888"/>
<rect x="131.25" y="359.52" width="0.60" height="0.70" rx="0" fill="#888"/>
<rect x="133.80" y="359.52" width="0.60" height="0.70" rx="0" fill="#888"/>
<rect x="136.35" y="359.52" width="0.60" height="0.70" rx="0" fill="#888"/>
<rect x="138.90" y="359.52" width="0.60" height="0.70" rx="0" fill="#888"/>
<rect x="141.45" y="359.52" width="0.60" height="0.70" rx="0" fill="#888"/>
<rect x="142.50" y="358.82" width="6.90" height="2.20" rx="0" stroke="#444" stroke-width="0.5" fill="#999" />
<rect x="150.40" y="358.82" width="6.60" height="2.20" rx="0" stroke="#444" stroke-width="0.5" fill="#999" />
<rect x="90.20" y="362.08" width="51.50" height="3.00" rx="0" fill="#111"/>
<rect x="98.30" y="362.08" width="0.80" height="3.00" rx="0" fill="#e8e8e8"/>
<rect x="115.30" y="362.08" width="0.80" height="3.00" rx="0" fill="#e8e8e8"/>
<rect x="132.30" y="362.08" width="0.80" height="3.00" rx="0" fill="#e8e8e8"/>
<rect x="91.80" y="362.28" width="0.55" height="1.30" rx="0" fill="#999"/>
<rect x="94.35" y="362.28" width="0.55" height="1.30" rx="0" fill="#999"/>
<rect x="96.90" y="362.28" width="0.55" height="1.30" rx="0" fill="#999"/>
<rect x="99.45" y="362.28" width="0.55" height="1.30" rx="0" fill="#999"/>
<rect x="102.00" y="362.28" width="0.55" height="1.30" rx="0" fill="#999"/>
<rect x="104.55" y="362.28" width="0.55" height="1.30" rx="0" fill="#999"/>
<rect x="107.10" y="362.28" width="0.55" height="1.30" rx="0" fill="#999"/>
<rect x="109.65" y="362.28" width="0.55" height="1.30" rx="0" fill="#999"/>
<rect x="112.20" y="362.28" width="0.55" height="1.30" rx="0" fill="#999"/>
<rect x="114.75" y="362.28" width="0.55" height="1.30" rx="0" fill="#999"/>
<rect x="117.30" y="362.28" width="0.55" height="1.30" rx="0" fill="#999"/>
<rect x="119.85" y="362.28" width="0.55" height="1.30" rx="0" fill="#999"/>
<rect x="122.40" y="362.28" width="0.55" height="1.30" rx="0" fill="#999"/>
<rect x="124.95" y="362.28" width="0.55" height="1.30" rx="0" fill="#999"/>
<rect x="127.50" y="362.28" width="0.55" height="1.30" rx="0" fill="#999"/>
<rect x="130.05" y="362.28" width="0.55" height="1.30" rx="0" fill="#999"/>
<rect x="132.60" y="362.28" width="0.55" height="1.30" rx="0" fill="#999"/>
<rect x="135.15" y="362.28" width="0.55" height="1.30" rx="0" fill="#999"/>
<rect x="137.70" y="362.28" width="0.55" height="1.30" rx="0" fill="#999"/>
<rect x="140.25" y="362.28" width="0.55" height="1.30" rx="0" fill="#999"/>
<rect x="142.50" y="362.38" width="6.90" height="2.20" rx="0" stroke="#444" stroke-width="0.5" fill="#999" />
<rect x="150.40" y="362.38" width="6.60" height="2.20" rx="0" stroke="#444" stroke-width="0.5" fill="#999" />
<rect x="90.20" y="365.64" width="51.50" height="3.00" rx="0" fill="#111"/>
<rect x="106.60" y="365.64" width="0.80" height="3.00" rx="0" fill="#e8e8e8"/>
<rect x="123.60" y="365.64" width="0.80" height="3.00" rx="0" fill="#e8e8e8"/>
<rect x="140.60" y="365.64" width="0.80" height="3.00" rx="0" fill="#e8e8e8"/>
<rect x="93.00" y="366.64" width="0.60" height="0.70" rx="0" fill="#888"/>
<rect x="95.55" y="366.64" width="0.60" height="0.70" rx="0" fill="#888"/>
<rect x="98.10" y="366.64" width="0.60" height="0.70" rx="0" fill="#888"/>
<rect x="100.65" y="366.64" width="0.60" height="0.70" rx="0" fill="#888"/>
<rect x="103.20" y="366.64" width="0.60" height="0.70" rx="0" fill="#888"/>
<rect x="105.75" y="366.64" width="0.60" height="0.70" rx="0" fill="#888"/>
<rect x="108.30" y="366.64" width="0.60" height="0.70" rx="0" fill="#888"/>
<rect x="110.85" y="366.64" width="0.60" height="0.70" rx="0" fill="#888"/>
<rect x="113.40" y="366.64" width="0.60" height="0.70" rx="0" fill="#888"/>
<rect x="115.95" y="366.64" width="0.60" height="0.70" rx="0" fill="#888"/>
<rect x="118.50" y="366.64" width="0.60" height="0.70" rx="0" fill="#888"/>
<rect x="121.05" y="366.64" width="0.60" height="0.70" rx="0" fill="#888"/>
<rect x="123.60" y="366.64" width="0.60" height="0.70" rx="0" fill="#888"/>
<rect x="126.15" y="366.64" width="0.60" height="0.70" rx="0" fill="#888"/>
<rect x="128.70" y="366.64" width="0.60" height="0.70" rx="0" fill="#888"/>
<rect x="131.25" y="366.64" width="0.60" height="0.70" rx="0" fill="#888"/>
<rect x="133.80" y="366.64" width="0.60" height="0.70" rx="0" fill="#888"/>
<rect x="136.35" y="366.64" width="0.60" height="0.70" rx="0" fill="#888"/>
<rect x="138.90" y="366.64" width="0.60" height="0.70" rx="0" fill="#888"/>
<rect x="141.45" y="366.64" width="0.60" height="0.70" rx="0" fill="#888"/>
<rect x="142.50" y="365.94" width="6.90" height="2.20" rx="0" stroke="#444" stroke-width="0.5" fill="#999" />
<rect x="150.40" y="365.94" width="6.60" height="2.20" rx="0" stroke="#444" stroke-width="0.5" fill="#999" />
<rect x="90.20" y="369.50" width="7.50" height="2.20" rx="0" stroke="#333" stroke-width="0.6" fill="#aaa" />
<rect x="99.20" y="369.50" width="15.50" height="2.20" rx="0" stroke="#333" stroke-width="0.6" fill="#aaa" />
<rect x="116.20" y="369.50" width="15.50" height="2.20" rx="0" stroke="#333" stroke-width="0.6" fill="#aaa" />
<rect x="133.20" y="369.50" width="8.00" height="2.20" rx="0" stroke="#333" stroke-width="0.6" fill="#aaa" />
<rect x="142.50" y="369.50" width="6.90" height="2.20" rx="0" stroke="#444" stroke-width="0.5" fill="#999" />
<rect x="150.40" y="369.50" width="6.60" height="2.20" rx="0" stroke="#444" stroke-width="0.5" fill="#999" />
<rect x="90.20" y="372.76" width="51.50" height="3.00" rx="0" fill="#111"/>
<rect x="106.60" y="372.76" width="0.80" height="3.00" rx="0" fill="#e8e8e8"/>
<rect x="123.60" y="372.76" width="0.80" height="3.00" rx="0" fill="#e8e8e8"/>
<rect x="140.60" y="372.76" width="0.80" height="3.00" rx="0" fill="#e8e8e8"/>
<rect x="93.00" y="373.76" width="0.60" height="0.70" rx="0" fill="#888"/>
<rect x="95.55" y="373.76" width="0.60" height="0.70" rx="0" fill="#888"/>
<rect x="98.10" y="373.76" width="0.60" height="0.70" rx="0" fill="#888"/>
<rect x="100.65" y="373.76" width="0.60" height="0.70" rx="0" fill="#888"/>
<rect x="103.20" y="373.76" width="0.60" height="0.70" rx="0" fill="#888"/>
<rect x="105.75" y="373.76" width="0.60" height="0.70" rx="0" fill="#888"/>
<rect x="108.30" y="373.76" width="0.60" height="0.70" rx="0" fill="#888"/>
<rect x="110.85" y="373.76" width="0.60" height="0.70" rx="0" fill="#888"/>
<rect x="113.40" y="373.76" width="0.60" height="0.70" rx="0" fill="#888"/>
<rect x="115.95" y="373.76" width="0.60" height="0.70" rx="0" fill="#888"/>
<rect x="118.50" y="373.76" width="0.60" height="0.70" rx="0" fill="#888"/>
<rect x="121.05" y="373.76" width="0.60" height="0.70" rx="0" fill="#888"/>
<rect x="123.60" y="373.76" width="0.60" height="0.70" rx="0" fill="#888"/>
<rect x="126.15" y="373.76" width="0.60" height="0.70" rx="0" fill="#888"/>
<rect x="128.70" y="373.76" width="0.60" height="0.70" rx="0" fill="#888"/>
<rect x="131.25" y="373.76" width="0.60" height="0.70" rx="0" fill="#888"/>
<rect x="133.80" y="373.76" width="0.60" height="0.70" rx="0" fill="#888"/>
<rect x="136.35" y="373.76" width="0.60" height="0.70" rx="0" fill="#888"/>
<rect x="138.90" y="373.76" width="0.60" height="0.70" rx="0" fill="#888"/>
<rect x="141.45" y="373.76" width="0.60" height="0.70" rx="0" fill="#888"/>
<rect x="142.50" y="373.06" width="6.90" height="2.20" rx="0" stroke="#444" stroke-width="0.5" fill="#999" />
<rect x="150.40" y="373.06" width="6.60" height="2.20" rx="0" stroke="#444" stroke-width="0.5" fill="#999" />
<rect x="90.20" y="376.32" width="51.50" height="3.00" rx="0" fill="#111"/>
<rect x="98.30" y="376.32" width="0.80" height="3.00" rx="0" fill="#e8e8e8"/>
<rect x="115.30" y="376.32" width="0.80" height="3.00" rx="0" fill="#e8e8e8"/>
<rect x="132.30" y="376.32" width="0.80" height="3.00" rx="0" fill="#e8e8e8"/>
<rect x="91.80" y="376.52" width="0.55" height="1.30" rx="0" fill="#999"/>
<rect x="94.35" y="376.52" width="0.55" height="1.30" rx="0" fill="#999"/>
<rect x="96.90" y="376.52" width="0.55" height="1.30" rx="0" fill="#999"/>
<rect x="99.45" y="376.52" width="0.55" height="1.30" rx="0" fill="#999"/>
<rect x="102.00" y="376.52" width="0.55" height="1.30" rx="0" fill="#999"/>
<rect x="104.55" y="376.52" width="0.55" height="1.30" rx="0" fill="#999"/>
<rect x="107.10" y="376.52" width="0.55" height="1.30" rx="0" fill="#999"/>
<rect x="109.65" y="376.52" width="0.55" height="1.30" rx="0" fill="#999"/>
<rect x="112.20" y="376.52" width="0.55" height="1.30" rx="0" fill="#999"/>
<rect x="114.75" y="376.52" width="0.55" height="1.30" rx="0" fill="#999"/>
<rect x="117.30" y="376.52" width="0.55" height="1.30" rx="0" fill="#999"/>
<rect x="119.85" y="376.52" width="0.55" height="1.30" rx="0" fill="#999"/>
<rect x="122.40" y="376.52" width="0.55" height="1.30" rx="0" fill="#999"/>
<rect x="124.95" y="376.52" width="0.55" height="1.30" rx="0" fill="#999"/>
<rect x="127.50" y="376.52" width="0.55" height="1.30" rx="0" fill="#999"/>
<rect x="130.05" y="376.52" width="0.55" height="1.30" rx="0" fill="#999"/>
<rect x="132.60" y="376.52" width="0.55" height="1.30" rx="0" fill="#999"/>
<rect x="135.15" y="376.52" width="0.55" height="1.30" rx="0" fill="#999"/>
<rect x="137.70" y="376.52" width="0.55" height="1.30" rx="0" fill="#999"/>
<rect x="140.25" y="376.52" width="0.55" height="1.30" rx="0" fill="#999"/>
<rect x="142.50" y="376.62" width="6.90" height="2.20" rx="0" stroke="#444" stroke-width="0.5" fill="#999" />
<rect x="150.40" y="376.62" width="6.60" height="2.20" rx="0" stroke="#444" stroke-width="0.5" fill="#999" />
<rect x="90.20" y="379.88" width="51.50" height="3.00" rx="0" fill="#111"/>
<rect x="106.60" y="379.88" width="0.80" height="3.00" rx="0" fill="#e8e8e8"/>
<rect x="123.60" y="379.88" width="0.80" height="3.00" rx="0" fill="#e8e8e8"/>
<rect x="140.60" y="379.88" width="0.80" height="3.00" rx="0" fill="#e8e8e8"/>
<rect x="93.00" y="380.88" width="0.60" height="0.70" rx="0" fill="#888"/>
<rect x="95.55" y="380.88" width="0.60" height="0.70" rx="0" fill="#888"/>
<rect x="98.10" y="380.88" width="0.60" height="0.70" rx="0" fill="#888"/>
<rect x="100.65" y="380.88" width="0.60" height="0.70" rx="0" fill="#888"/>
<rect x="103.20" y="380.88" width="0.60" height="0.70" rx="0" fill="#888"/>
<rect x="105.75" y="380.88" width="0.60" height="0.70" rx="0" fill="#888"/>
<rect x="108.30" y="380.88" width="0.60" height="0.70" rx="0" fill="#888"/>
<rect x="110.85" y="380.88" width="0.60" height="0.70" rx="0" fill="#888"/>
<rect x="113.40" y="380.88" width="0.60" height="0.70" rx="0" fill="#888"/>
<rect x="115.95" y="380.88" width="0.60" height="0.70" rx="0" fill="#888"/>
<rect x="118.50" y="380.88" width="0.60" height="0.70" rx="0" fill="#888"/>
<rect x="121.05" y="380.88" width="0.60" height="0.70" rx="0" fill="#888"/>
<rect x="123.60" y="380.88" width="0.60" height="0.70" rx="0" fill="#888"/>
<rect x="126.15" y="380.88" width="0.60" height="0.70" rx="0" fill="#888"/>
<rect x="128.70" y="380.88" width="0.60" height="0.70" rx="0" fill="#888"/>
<rect x="131.25" y="380.88" width="0.60" height="0.70" rx="0" fill="#888"/>
<rect x="133.80" y="380.88" width="0.60" height="0.70" rx="0" fill="#888"/>
<rect x="136.35" y="380.88" width="0.60" height="0.70" rx="0" fill="#888"/>
<rect x="138.90" y="380.88" width="0.60" height="0.70" rx="0" fill="#888"/>
<rect x="141.45" y="380.88" width="0.60" height="0.70" rx="0" fill="#888"/>
<rect x="142.50" y="380.18" width="6.90" height="2.20" rx="0" stroke="#444" stroke-width="0.5" fill="#999" />
<rect x="150.40" y="380.18" width="6.60" height="2.20" rx="0" stroke="#444" stroke-width="0.5" fill="#999" />
<rect x="90.20" y="383.44" width="51.50" height="3.00" rx="0" fill="#111"/>
<rect x="98.30" y="383.44" width="0.80" height="3.00" rx="0" fill="#e8e8e8"/>
<rect x="115.30" y="383.44" width="0.80" height="3.00" rx="0" fill="#e8e8e8"/>
<rect x="132.30" y="383.44" width="0.80" height="3.00" rx="0" fill="#e8e8e8"/>
<rect x="91.80" y="383.64" width="0.55" height="1.30" rx="0" fill="#999"/>
<rect x="94.35" y="383.64" width="0.55" height="1.30" rx="0" fill="#999"/>
<rect x="96.90" y="383.64" width="0.55" height="1.30" rx="0" fill="#999"/>
<rect x="99.45" y="383.64" width="0.55" height="1.30" rx="0" fill="#999"/>
<rect x="102.00" y="383.64" width="0.55" height="1.30" rx="0" fill="#999"/>
<rect x="104.55" y="383.64" width="0.55" height="1.30" rx="0" fill="#999"/>
<rect x="107.10" y="383.64" width="0.55" height="1.30" rx="0" fill="#999"/>
<rect x="109.65" y="383.64" width="0.55" height="1.30" rx="0" fill="#999"/>
<rect x="112.20" y="383.64" width="0.55" height="1.30" rx="0" fill="#999"/>
<rect x="114.75" y="383.64" width="0.55" height="1.30" rx="0" fill="#999"/>
<rect x="117.30" y="383.64" width="0.55" height="1.30" rx="0" fill="#999"/>
<rect x="119.85" y="383.64" width="0.55" height="1.30" rx="0" fill="#999"/>
<rect x="122.40" y="383.64" width="0.55" height="1.30" rx="0" fill="#999"/>
<rect x="124.95" y="383.64" width="0.55" height="1.30" rx="0" fill="#999"/>
<rect x="127.50" y="383.64" width="0.55" height="1.30" rx="0" fill="#999"/>
<rect x="130.05" y="383.64" width="0.55" height="1.30" rx="0" fill="#999"/>
<rect x="132.60" y="383.64" width="0.55" height="1.30" rx="0" fill="#999"/>
<rect x="135.15" y="383.64" width="0.55" height="1.30" rx="0" fill="#999"/>
<rect x="137.70" y="383.64" width="0.55" height="1.30" rx="0" fill="#999"/>
<rect x="140.25" y="383.64" width="0.55" height="1.30" rx="0" fill="#999"/>
<rect x="142.50" y="383.74" width="6.90" height="2.20" rx="0" stroke="#444" stroke-width="0.5" fill="#999" />
<rect x="150.40" y="383.74" width="6.60" height="2.20" rx="0" stroke="#444" stroke-width="0.5" fill="#999" />
<rect x="90.20" y="387.00" width="51.50" height="3.00" rx="0" fill="#111"/>
<rect x="106.60" y="387.00" width="0.80" height="3.00" rx="0" fill="#e8e8e8"/>
<rect x="123.60" y="387.00" width="0.80" height="3.00" rx="0" fill="#e8e8e8"/>
<rect x="140.60" y="387.00" width="0.80" height="3.00" rx="0" fill="#e8e8e8"/>
<rect x="93.00" y="388.00" width="0.60" height="0.70" rx="0" fill="#888"/>
<rect x="95.55" y="388.00" width="0.60" height="0.70" rx="0" fill="#888"/>
<rect x="98.10" y="388.00" width="0.60" height="0.70" rx="0" fill="#888"/>
<rect x="100.65" y="388.00" width="0.60" height="0.70" rx="0" fill="#888"/>
<rect x="103.20" y="388.00" width="0.60" height="0.70" rx="0" fill="#888"/>
<rect x="105.75" y="388.00" width="0.60" height="0.70" rx="0" fill="#888"/>
<rect x="108.30" y="388.00" width="0.60" height="0.70" rx="0" fill="#888"/>
<rect x="110.85" y="388.00" width="0.60" height="0.70" rx="0" fill="#888"/>
<rect x="113.40" y="388.00" width="0.60" height="0.70" rx="0" fill="#888"/>
<rect x="115.95" y="388.00" width="0.60" height="0.70" rx="0" fill="#888"/>
<rect x="118.50" y="388.00" width="0.60" height="0.70" rx="0" fill="#888"/>
<rect x="121.05" y="388.00" width="0.60" height="0.70" rx="0" fill="#888"/>
<rect x="123.60" y="388.00" width="0.60" height="0.70" rx="0" fill="#888"/>
<rect x="126.15" y="388.00" width="0.60" height="0.70" rx="0" fill="#888"/>
<rect x="128.70" y="388.00" width="0.60" height="0.70" rx="0" fill="#888"/>
<rect x="131.25" y="388.00" width="0.60" height="0.70" rx="0" fill="#888"/>
<rect x="133.80" y="388.00" width="0.60" height="0.70" rx="0" fill="#888"/>
<rect x="136.35" y="388.00" width="0.60" height="0.70" rx="0" fill="#888"/>
<rect x="138.90" y="388.00" width="0.60" height="0.70" rx="0" fill="#888"/>
<rect x="141.45" y="388.00" width="0.60" height="0.70" rx="0" fill="#888"/>
<rect x="142.50" y="387.30" width="6.90" height="2.20" rx="0" stroke="#444" stroke-width="0.5" fill="#999" />
<rect x="150.40" y="387.30" width="6.60" height="2.20" rx="0" stroke="#444" stroke-width="0.5" fill="#999" />
<rect x="90.20" y="390.56" width="51.50" height="3.00" rx="0" fill="#111"/>
<rect x="98.30" y="390.56" width="0.80" height="3.00" rx="0" fill="#e8e8e8"/>
<rect x="115.30" y="390.56" width="0.80" height="3.00" rx="0" fill="#e8e8e8"/>
<rect x="132.30" y="390.56" width="0.80" height="3.00" rx="0" fill="#e8e8e8"/>
<rect x="91.80" y="390.76" width="0.55" height="1.30" rx="0" fill="#999"/>
<rect x="94.35" y="390.76" width="0.55" height="1.30" rx="0" fill="#999"/>
<rect x="96.90" y="390.76" width="0.55" height="1.30" rx="0" fill="#999"/>
<rect x="99.45" y="390.76" width="0.55" height="1.30" rx="0" fill="#999"/>
<rect x="102.00" y="390.76" width="0.55" height="1.30" rx="0" fill="#999"/>
<rect x="104.55" y="390.76" width="0.55" height="1.30" rx="0" fill="#999"/>
<rect x="107.10" y="390.76" width="0.55" height="1.30" rx="0" fill="#999"/>
<rect x="109.65" y="390.76" width="0.55" height="1.30" rx="0" fill="#999"/>
<rect x="112.20" y="390.76" width="0.55" height="1.30" rx="0" fill="#999"/>
<rect x="114.75" y="390.76" width="0.55" height="1.30" rx="0" fill="#999"/>
<rect x="117.30" y="390.76" width="0.55" height="1.30" rx="0" fill="#999"/>
<rect x="119.85" y="390.76" width="0.55" height="1.30" rx="0" fill="#999"/>
<rect x="122.40" y="390.76" width="0.55" height="1.30" rx="0" fill="#999"/>
<rect x="124.95" y="390.76" width="0.55" height="1.30" rx="0" fill="#999"/>
<rect x="127.50" y="390.76" width="0.55" height="1.30" rx="0" fill="#999"/>
<rect x="130.05" y="390.76" width="0.55" height="1.30" rx="0" fill="#999"/>
<rect x="132.60" y="390.76" width="0.55" height="1.30" rx="0" fill="#999"/>
<rect x="135.15" y="390.76" width="0.55" height="1.30" rx="0" fill="#999"/>
<rect x="137.70" y="390.76" width="0.55" height="1.30" rx="0" fill="#999"/>
<rect x="140.25" y="390.76" width="0.55" height="1.30" rx="0" fill="#999"/>
<rect x="142.50" y="390.86" width="6.90" height="2.20" rx="0" stroke="#444" stroke-width="0.5" fill="#999" />
<rect x="150.40" y="390.86" width="6.60" height="2.20" rx="0" stroke="#444" stroke-width="0.5" fill="#999" />
<rect x="90.20" y="394.12" width="51.50" height="3.00" rx="0" fill="#111"/>
<rect x="106.60" y="394.12" width="0.80" height="3.00" rx="0" fill="#e8e8e8"/>
<rect x="123.60" y="394.12" width="0.80" height="3.00" rx="0" fill="#e8e8e8"/>
<rect x="140.60" y="394.12" width="0.80" height="3.00" rx="0" fill="#e8e8e8"/>
<rect x="93.00" y="395.12" width="0.60" height="0.70" rx="0" fill="#888"/>
<rect x="95.55" y="395.12" width="0.60" height="0.70" rx="0" fill="#888"/>
<rect x="98.10" y="395.12" width="0.60" height="0.70" rx="0" fill="#888"/>
<rect x="100.65" y="395.12" width="0.60" height="0.70" rx="0" fill="#888"/>
<rect x="103.20" y="395.12" width="0.60" height="0.70" rx="0" fill="#888"/>
<rect x="105.75" y="395.12" width="0.60" height="0.70" rx="0" fill="#888"/>
<rect x="108.30" y="395.12" width="0.60" height="0.70" rx="0" fill="#888"/>
<rect x="110.85" y="395.12" width="0.60" height="0.70" rx="0" fill="#888"/>
<rect x="113.40" y="395.12" width="0.60" height="0.70" rx="0" fill="#888"/>
<rect x="115.95" y="395.12" width="0.60" height="0.70" rx="0" fill="#888"/>
<rect x="118.50" y="395.12" width="0.60" height="0.70" rx="0" fill="#888"/>
<rect x="121.05" y="395.12" width="0.60" height="0.70" rx="0" fill="#888"/>
<rect x="123.60" y="395.12" width="0.60" height="0.70" rx="0" fill="#888"/>
<rect x="126.15" y="395.12" width="0.60" height="0.70" rx="0" fill="#888"/>
<rect x="128.70" y="395.12" width="0.60" height="0.70" rx="0" fill="#888"/>
<rect x="131.25" y="395.12" width="0.60" height="0.70" rx="0" fill="#888"/>
<rect x="133.80" y="395.12" width="0.60" height="0.70" rx="0" fill="#888"/>
<rect x="136.35" y="395.12" width="0.60" height="0.70" rx="0" fill="#888"/>
<rect x="138.90" y="395.12" width="0.60" height="0.70" rx="0" fill="#888"/>
<rect x="141.45" y="395.12" width="0.60" height="0.70" rx="0" fill="#888"/>
<rect x="142.50" y="394.42" width="6.90" height="2.20" rx="0" stroke="#444" stroke-width="0.5" fill="#999" />
<rect x="150.40" y="394.42" width="6.60" height="2.20" rx="0" stroke="#444" stroke-width="0.5" fill="#999" />
<rect x="90.20" y="397.68" width="51.50" height="3.00" rx="0" fill="#666"/>
<rect x="142.50" y="397.98" width="6.90" height="2.20" rx="0" stroke="#444" stroke-width="0.5" fill="#999" />
<rect x="150.40" y="397.98" width="6.60" height="2.20" rx="0" stroke="#444" stroke-width="0.5" fill="#999" />
<rect x="90.20" y="401.54" width="15.50" height="2.20" rx="0" stroke="#333" stroke-width="0.6" fill="#aaa" />
<rect x="107.20" y="401.54" width="16.00" height="2.20" rx="0" stroke="#333" stroke-width="0.6" fill="#aaa" />
<rect x="124.70" y="401.54" width="16.00" height="2.20" rx="0" stroke="#333" stroke-width="0.6" fill="#aaa" />
<rect x="142.50" y="401.54" width="6.90" height="2.20" rx="0" stroke="#444" stroke-width="0.5" fill="#999" />
<rect x="150.40" y="401.54" width="6.60" height="2.20" rx="0" stroke="#444" stroke-width="0.5" fill="#999" />
<rect x="139.70" y="369.20" width="4.00" height="3.00" rx="0" fill="#222"/>
<line x1="182.60" y1="342.80" x2="182.60" y2="412.40" stroke="#111" stroke-width="1.3" />
<circle cx="173.90" cy="351.20" r="5.0" stroke="#666" stroke-width="0.9" fill="none"/>
<circle cx="173.90" cy="351.20" r="3.6" stroke="#111" stroke-width="1.7" fill="none"/>
<rect x="171.50" y="350.50" width="4.80" height="1.40" rx="0" fill="#111"/>
<rect x="173.10" y="343.60" width="1.60" height="2.20" rx="0" fill="#111"/>
<circle cx="181.50" cy="351.60" r="1.6" stroke="#333" stroke-width="0.8" fill="none"/>
<rect x="178.90" y="350.80" width="1.60" height="1.20" rx="0" fill="#222"/>
<line x1="77.40" y1="340.20" x2="270.20" y2="340.20" stroke="#555" stroke-width="0.7" />
<circle cx="173.80" cy="394.80" r="1.6" fill="#111"/>
<rect x="171.20" y="397.10" width="5.30" height="1.40" rx="0.6" fill="#111"/>
<circle cx="173.80" cy="403.80" r="1.7" fill="#111"/>
<circle cx="173.80" cy="406.50" r="1.7" fill="#111"/>
<rect x="197.80" y="384.80" width="67.20" height="19.70" rx="0" stroke="#111" stroke-width="1.3" fill="none" />
<rect x="201.00" y="345.40" width="10.60" height="7.60" rx="0" fill="#111"/>
<rect x="202.60" y="347.00" width="2.60" height="4.40" rx="0" fill="#ddd"/>
<rect x="207.20" y="347.40" width="2.40" height="3.60" rx="0" fill="#bbb"/>
<rect x="203.00" y="357.20" width="7.20" height="3.70" rx="0" fill="#111"/>
<polygon points="198.20,359.00 199.80,357.40 201.40,359.00 199.80,360.60" fill="#111"/>
<polygon points="212.20,359.00 213.80,357.40 215.40,359.00 213.80,360.60" fill="#111"/>
<line x1="192.00" y1="343.60" x2="196.00" y2="343.60" stroke="#444" stroke-width="0.8" />
<line x1="252.00" y1="343.60" x2="256.00" y2="343.60" stroke="#444" stroke-width="0.8" />
<path d="M211.5 348.8 H227.2 V434.8" stroke="#ff1a1a" stroke-width="1.0" fill="none" />
<line x1="206.90" y1="360.60" x2="206.90" y2="434.80" stroke="#ff1a1a" stroke-width="1.0" />
<line x1="183.00" y1="387.10" x2="206.90" y2="387.10" stroke="#ff1a1a" stroke-width="1.0" />
<path d="M175.4 395.6 H189.4 V434.8" stroke="#ff1a1a" stroke-width="1.0" fill="none" />
<line x1="173.80" y1="408.40" x2="173.80" y2="434.80" stroke="#ff1a1a" stroke-width="1.0" />
<text class="t" x="166.40" y="452.20" font-size="17" textLength="12.40" lengthAdjust="spacingAndGlyphs" >13</text>
<text class="t" x="182.90" y="452.20" font-size="17" textLength="11.40" lengthAdjust="spacingAndGlyphs" >14</text>
<text class="t" x="199.50" y="452.20" font-size="17" textLength="12.00" lengthAdjust="spacingAndGlyphs" >15</text>
<text class="t" x="220.50" y="452.20" font-size="17" textLength="12.20" lengthAdjust="spacingAndGlyphs" >16</text>
<line x1="401.60" y1="34.50" x2="401.60" y2="80.20" stroke="#111" stroke-width="0.7" />
<line x1="596.80" y1="34.50" x2="596.80" y2="80.20" stroke="#111" stroke-width="0.7" />
<line x1="401.60" y1="37.20" x2="596.80" y2="37.20" stroke="#111" stroke-width="0.8" />
<polygon points="401.60,37.20 407.80,35.95 407.80,38.45" fill="#111"/>
<polygon points="596.80,37.20 590.60,35.95 590.60,38.45" fill="#111"/>
<line x1="403.60" y1="59.30" x2="403.60" y2="80.20" stroke="#111" stroke-width="0.7" />
<line x1="595.20" y1="59.30" x2="595.20" y2="80.20" stroke="#111" stroke-width="0.7" />
<line x1="403.60" y1="61.60" x2="595.20" y2="61.60" stroke="#111" stroke-width="0.8" />
<polygon points="403.60,61.60 409.80,60.35 409.80,62.85" fill="#111"/>
<polygon points="595.20,61.60 589.00,60.35 589.00,62.85" fill="#111"/>
<text class="t" x="491.20" y="36.60" font-size="13.2" textLength="16.40" lengthAdjust="spacingAndGlyphs" >436</text>
<text class="t" x="491.20" y="61.00" font-size="13.2" textLength="16.40" lengthAdjust="spacingAndGlyphs" >430</text>
<line x1="359.20" y1="80.20" x2="596.80" y2="80.20" stroke="#111" stroke-width="0.9" />
<line x1="403.20" y1="80.20" x2="403.20" y2="287.50" stroke="#111" stroke-width="1.5" />
<line x1="401.70" y1="80.20" x2="401.70" y2="287.50" stroke="#444" stroke-width="0.8" />
<line x1="595.80" y1="80.20" x2="595.80" y2="287.50" stroke="#111" stroke-width="1.5" />
<line x1="597.00" y1="80.20" x2="597.00" y2="287.50" stroke="#333" stroke-width="0.8" />
<line x1="403.00" y1="80.20" x2="596.00" y2="80.20" stroke="#111" stroke-width="1.2" />
<line x1="403.00" y1="275.80" x2="596.00" y2="275.80" stroke="#111" stroke-width="1.3" />
<line x1="403.00" y1="279.10" x2="596.00" y2="279.10" stroke="#111" stroke-width="1.3" />
<line x1="391.50" y1="287.60" x2="607.80" y2="287.60" stroke="#222" stroke-width="1.1" />
<rect x="476.10" y="95.20" width="46.80" height="10.70" rx="5.3" stroke="#111" stroke-width="0.9" fill="none" />
<rect x="478.00" y="97.50" width="43.00" height="6.30" rx="3.1" stroke="#111" stroke-width="0.8" fill="none" />
<line x1="481.00" y1="96.60" x2="518.00" y2="96.60" stroke="#444" stroke-width="1.0" />
<path d="M394.2 287.5 V299.7 a3 3 0 0 0 6.0 0 V287.5" stroke="#111" stroke-width="0.8" fill="none" />
<line x1="394.20" y1="294.40" x2="400.20" y2="294.40" stroke="#666" stroke-width="0.5" />
<path d="M598.6 287.5 V299.7 a3 3 0 0 0 6.1 0 V287.5" stroke="#111" stroke-width="0.8" fill="none" />
<line x1="598.60" y1="294.40" x2="604.70" y2="294.40" stroke="#666" stroke-width="0.5" />
<rect x="447.60" y="287.60" width="2.80" height="3.40" rx="0" fill="#777"/>
<rect x="446.00" y="290.40" width="6.00" height="2.40" rx="0.8" fill="#777"/>
<rect x="548.40" y="287.60" width="2.80" height="3.40" rx="0" fill="#777"/>
<rect x="546.80" y="290.40" width="6.00" height="2.40" rx="0.8" fill="#777"/>
<path d="M493.5 287.6 H505.3 L503.6 290.4 Q499.4 291.6 495.2 290.4 Z" stroke="#222" stroke-width="0.6" fill="#222" />
<line x1="508.00" y1="288.40" x2="541.00" y2="288.40" stroke="#222" stroke-width="1.4" />
<line x1="359.20" y1="302.40" x2="398.60" y2="302.40" stroke="#111" stroke-width="0.7" />
<line x1="361.20" y1="80.20" x2="361.20" y2="302.40" stroke="#111" stroke-width="0.8" />
<polygon points="361.20,80.20 359.95,86.40 362.45,86.40" fill="#111"/>
<polygon points="361.20,302.40 359.95,296.20 362.45,296.20" fill="#111"/>
<line x1="381.40" y1="287.50" x2="403.00" y2="287.50" stroke="#111" stroke-width="0.7" />
<line x1="382.90" y1="80.20" x2="382.90" y2="287.50" stroke="#111" stroke-width="0.8" />
<polygon points="382.90,80.20 381.65,86.40 384.15,86.40" fill="#111"/>
<polygon points="382.90,287.50 381.65,281.30 384.15,281.30" fill="#111"/>
<text class="t" x="360.20" y="203.50" font-size="13.2" textLength="24.40" lengthAdjust="spacingAndGlyphs" transform="rotate(-90 360.20 203.50)" >496.5</text>
<text class="t" x="382.20" y="196.20" font-size="13.2" textLength="24.40" lengthAdjust="spacingAndGlyphs" transform="rotate(-90 382.20 196.20)" >464.5</text>
<line x1="672.70" y1="209.10" x2="880.70" y2="209.10" stroke="#111" stroke-width="1.3" />
<line x1="672.70" y1="215.40" x2="868.00" y2="215.40" stroke="#111" stroke-width="1.3" />
<line x1="867.80" y1="209.10" x2="867.80" y2="216.40" stroke="#111" stroke-width="1.3" />
<line x1="672.80" y1="209.10" x2="672.80" y2="248.50" stroke="#111" stroke-width="1.6" />
<line x1="672.80" y1="248.50" x2="672.80" y2="288.20" stroke="#333" stroke-width="1.0" />
<line x1="672.70" y1="288.20" x2="880.70" y2="288.20" stroke="#111" stroke-width="1.2" />
<polygon points="840.30,212.20 841.70,210.80 843.10,212.20 841.70,213.60" fill="#111"/>
<polygon points="675.20,220.20 676.80,218.60 678.40,220.20 676.80,221.80" fill="#111"/>
<polygon points="712.70,219.80 714.30,218.20 715.90,219.80 714.30,221.40" fill="#111"/>
<polygon points="739.80,219.80 741.40,218.20 743.00,219.80 741.40,221.40" fill="#111"/>
<polygon points="675.20,249.10 676.80,247.50 678.40,249.10 676.80,250.70" fill="#111"/>
<polygon points="675.20,278.80 676.80,277.20 678.40,278.80 676.80,280.40" fill="#111"/>
<rect x="709.30" y="223.80" width="100.70" height="13.20" rx="6.6" stroke="#111" stroke-width="1.1" fill="none" />
<rect x="709.30" y="260.20" width="100.70" height="13.50" rx="6.75" stroke="#111" stroke-width="1.1" fill="none" />
<line x1="685.50" y1="248.50" x2="685.50" y2="315.50" stroke="#111" stroke-width="1.0" />
<circle cx="685.50" cy="248.60" r="1.0" fill="#111"/>
<line x1="709.30" y1="248.50" x2="709.30" y2="315.50" stroke="#111" stroke-width="1.0" />
<circle cx="709.30" cy="248.60" r="1.0" fill="#111"/>
<line x1="719.80" y1="248.50" x2="719.80" y2="315.50" stroke="#111" stroke-width="1.0" />
<circle cx="719.80" cy="248.60" r="1.0" fill="#111"/>
<line x1="760.80" y1="248.50" x2="760.80" y2="315.50" stroke="#111" stroke-width="1.0" />
<circle cx="760.80" cy="248.60" r="1.0" fill="#111"/>
<line x1="801.90" y1="248.50" x2="801.90" y2="315.50" stroke="#111" stroke-width="1.0" />
<circle cx="801.90" cy="248.60" r="1.0" fill="#111"/>
<line x1="843.40" y1="248.50" x2="843.40" y2="315.50" stroke="#111" stroke-width="1.0" />
<circle cx="843.40" cy="248.60" r="1.0" fill="#111"/>
<line x1="880.70" y1="288.20" x2="880.70" y2="315.50" stroke="#111" stroke-width="0.8" />
<path d="M857.6 216.4 H879 M857.6 216.4 V235.1 Q857.6 236.6 859.1 236.6 H874 Q875.5 236.6 875.5 238.1 V257.6 Q875.5 259.1 874 259.1 H859.1 Q857.6 259.1 857.6 260.6 V278.3 Q857.6 279.8 859.1 279.8 H864.5 Q866 279.8 866 281.3 V288" stroke="#111" stroke-width="1.0" fill="none" />
<line x1="865.30" y1="236.60" x2="865.30" y2="259.10" stroke="#111" stroke-width="0.9" />
<line x1="870.70" y1="238.00" x2="870.70" y2="258.00" stroke="#555" stroke-width="0.7" />
<polygon points="859.50,219.80 861.30,218.00 863.10,219.80 861.30,221.60" fill="#111"/>
<polygon points="871.80,225.90 873.60,224.10 875.40,225.90 873.60,227.70" fill="#111"/>
<polygon points="859.50,232.90 861.30,231.10 863.10,232.90 861.30,234.70" fill="#111"/>
<polygon points="866.20,251.10 868.00,249.30 869.80,251.10 868.00,252.90" fill="#111"/>
<polygon points="859.50,263.20 861.30,261.40 863.10,263.20 861.30,265.00" fill="#111"/>
<polygon points="871.80,270.70 873.60,268.90 875.40,270.70 873.60,272.50" fill="#111"/>
<polygon points="859.50,276.80 861.30,275.00 863.10,276.80 861.30,278.60" fill="#111"/>
<path d="M866.5 288 L867.6 283.5 L868.8 288" stroke="#111" stroke-width="0.8" fill="none" />
<line x1="879.70" y1="209.10" x2="879.70" y2="288.20" stroke="#111" stroke-width="2.3" />
<path d="M880.5 217.2 H888.8 Q895.1 217.2 895.1 223.5 V272.4 Q895.1 278.7 888.8 278.7 H880.5" stroke="#222" stroke-width="0.9" fill="none" />
<path d="M880.5 220.8 H888.1 Q891.6 220.8 891.6 224.3 V271.6 Q891.6 275.1 888.1 275.1 H880.5" stroke="#222" stroke-width="0.9" fill="none" />
<rect x="880.30" y="219.00" width="2.90" height="8.00" rx="0" fill="#333"/>
<circle cx="881.80" cy="266.00" r="1.2" stroke="#111" stroke-width="0.6" fill="none"/>
<text class="t" x="652.80" y="230.00" font-size="12.2" textLength="13.00" lengthAdjust="spacingAndGlyphs" >M4</text>
<line x1="652.00" y1="231.00" x2="666.20" y2="231.00" stroke="#111" stroke-width="1.1" />
<line x1="666.20" y1="231.00" x2="697.00" y2="258.00" stroke="#111" stroke-width="0.7" />
<polygon points="685.60,248.00 680.80,245.40 682.60,243.40" fill="#111"/>
<polygon points="693.40,254.80 688.60,252.20 690.40,250.20" fill="#111"/>
<line x1="654.00" y1="248.50" x2="687.50" y2="248.50" stroke="#111" stroke-width="0.7" />
<line x1="654.00" y1="288.20" x2="672.70" y2="288.20" stroke="#111" stroke-width="0.7" />
<line x1="656.20" y1="248.50" x2="656.20" y2="288.20" stroke="#111" stroke-width="0.8" />
<polygon points="656.20,248.50 654.95,254.70 657.45,254.70" fill="#111"/>
<polygon points="656.20,288.20 654.95,282.00 657.45,282.00" fill="#111"/>
<text class="t" x="655.00" y="277.60" font-size="13.2" textLength="18.00" lengthAdjust="spacingAndGlyphs" transform="rotate(-90 655.00 277.60)" >88.5</text>
<line x1="695.60" y1="298.70" x2="744.00" y2="298.70" stroke="#111" stroke-width="0.7" />
<polygon points="709.30,298.70 703.10,297.45 703.10,299.95" fill="#111"/>
<polygon points="719.80,298.70 726.00,297.45 726.00,299.95" fill="#111"/>
<text class="t" x="733.20" y="298.00" font-size="13.2" textLength="10.90" lengthAdjust="spacingAndGlyphs" >23</text>
<line x1="685.50" y1="313.00" x2="709.30" y2="313.00" stroke="#111" stroke-width="0.8" />
<polygon points="685.50,313.00 691.70,311.75 691.70,314.25" fill="#111"/>
<polygon points="709.30,313.00 703.10,311.75 703.10,314.25" fill="#111"/>
<line x1="719.80" y1="313.00" x2="760.80" y2="313.00" stroke="#111" stroke-width="0.8" />
<polygon points="719.80,313.00 726.00,311.75 726.00,314.25" fill="#111"/>
<polygon points="760.80,313.00 754.60,311.75 754.60,314.25" fill="#111"/>
<line x1="760.80" y1="313.00" x2="801.90" y2="313.00" stroke="#111" stroke-width="0.8" />
<polygon points="760.80,313.00 767.00,311.75 767.00,314.25" fill="#111"/>
<polygon points="801.90,313.00 795.70,311.75 795.70,314.25" fill="#111"/>
<line x1="801.90" y1="313.00" x2="843.40" y2="313.00" stroke="#111" stroke-width="0.8" />
<polygon points="801.90,313.00 808.10,311.75 808.10,314.25" fill="#111"/>
<polygon points="843.40,313.00 837.20,311.75 837.20,314.25" fill="#111"/>
<line x1="843.40" y1="313.00" x2="880.70" y2="313.00" stroke="#111" stroke-width="0.8" />
<polygon points="843.40,313.00 849.60,311.75 849.60,314.25" fill="#111"/>
<polygon points="880.70,313.00 874.50,311.75 874.50,314.25" fill="#111"/>
<text class="t" x="688.40" y="312.60" font-size="13.2" textLength="17.60" lengthAdjust="spacingAndGlyphs" >52.7</text>
<text class="t" x="734.90" y="312.60" font-size="13.2" textLength="10.80" lengthAdjust="spacingAndGlyphs" >92</text>
<text class="t" x="775.90" y="312.60" font-size="13.2" textLength="10.80" lengthAdjust="spacingAndGlyphs" >92</text>
<text class="t" x="817.40" y="312.60" font-size="13.2" textLength="10.80" lengthAdjust="spacingAndGlyphs" >92</text>
<text class="t" x="856.80" y="312.60" font-size="13.2" textLength="10.80" lengthAdjust="spacingAndGlyphs" >83</text>
<text class="t" x="605.00" y="345.60" font-size="16" textLength="107.00" lengthAdjust="spacingAndGlyphs" >Interface specification</text>
<text class="t" x="601.00" y="364.40" font-size="16" textLength="86.00" lengthAdjust="spacingAndGlyphs" >1:AC 110V~240V</text>
<text class="t" x="705.00" y="364.40" font-size="16" textLength="35.60" lengthAdjust="spacingAndGlyphs" >2:COM</text>
<text class="t" x="762.20" y="364.40" font-size="16" textLength="33.80" lengthAdjust="spacingAndGlyphs" >3:PS/2</text>
<text class="t" x="817.40" y="364.40" font-size="16" textLength="47.70" lengthAdjust="spacingAndGlyphs" >4:USB2.0</text>
<text class="t" x="883.00" y="364.40" font-size="16" textLength="33.00" lengthAdjust="spacingAndGlyphs" >5:VGA</text>
<text class="t" x="601.00" y="383.60" font-size="16" textLength="39.60" lengthAdjust="spacingAndGlyphs" >6:DVI-D</text>
<text class="t" x="659.50" y="383.60" font-size="16" textLength="37.60" lengthAdjust="spacingAndGlyphs" >7:HDMI</text>
<text class="t" x="715.70" y="383.60" font-size="16" textLength="35.00" lengthAdjust="spacingAndGlyphs" >8:COM</text>
<text class="t" x="769.00" y="383.60" font-size="16" textLength="48.60" lengthAdjust="spacingAndGlyphs" >9:USB3.0</text>
<text class="t" x="830.10" y="383.60" font-size="16" textLength="36.60" lengthAdjust="spacingAndGlyphs" >10:LAN</text>
<text class="t" x="886.10" y="383.60" font-size="16" textLength="46.20" lengthAdjust="spacingAndGlyphs" >11 :Audio</text>
<text class="t" x="601.00" y="402.80" font-size="16" textLength="41.00" lengthAdjust="spacingAndGlyphs" >12:COM</text>
<text class="t" x="655.10" y="402.80" font-size="16" textLength="66.30" lengthAdjust="spacingAndGlyphs" >13: HDD-LED</text>
<text class="t" x="738.70" y="402.80" font-size="16" textLength="81.50" lengthAdjust="spacingAndGlyphs" >14:POWER-LED</text>
<text class="t" x="834.10" y="402.80" font-size="16" textLength="52.80" lengthAdjust="spacingAndGlyphs" >15:USB2.0</text>
<text class="t" x="897.20" y="402.80" font-size="16" textLength="56.70" lengthAdjust="spacingAndGlyphs" >16:POWER</text>
<defs><pattern id="mesh" width="2.2" height="2.2" patternUnits="userSpaceOnUse"><rect width="2.2" height="2.2" fill="#111"/><circle cx="1.1" cy="1.1" r="0.45" fill="#ccc"/></pattern><pattern id="mesh2" width="2.1" height="2.1" patternUnits="userSpaceOnUse"><rect width="2.1" height="2.1" fill="#1c1c1c"/><circle cx="1.05" cy="1.05" r="0.52" fill="#e0e0e0"/></pattern></defs>
<path d="M376 337.3 H589 Q590.6 337.3 590.6 338.90000000000003 V415.29999999999995 Q590.6 416.9 589 416.9 H376 Q374.4 416.9 374.4 415.29999999999995 V338.90000000000003 Q374.4 337.3 376 337.3 Z" stroke="#222" stroke-width="1.0" fill="none" />
<line x1="386.30" y1="337.30" x2="386.30" y2="416.90" stroke="#111" stroke-width="2.6" />
<line x1="579.10" y1="337.30" x2="579.10" y2="416.90" stroke="#111" stroke-width="2.6" />
<line x1="385.20" y1="337.30" x2="579.10" y2="337.30" stroke="#111" stroke-width="1.4" />
<line x1="385.20" y1="416.90" x2="579.10" y2="416.90" stroke="#111" stroke-width="1.4" />
<line x1="387.60" y1="340.00" x2="579.10" y2="340.00" stroke="#555" stroke-width="0.7" />
<line x1="387.60" y1="414.40" x2="579.10" y2="414.40" stroke="#444" stroke-width="0.8" />
<polygon points="378.00,348.20 380.20,346.00 382.40,348.20 380.20,350.40" fill="#111"/>
<polygon points="378.00,405.80 380.20,403.60 382.40,405.80 380.20,408.00" fill="#111"/>
<polygon points="582.40,348.20 584.60,346.00 586.80,348.20 584.60,350.40" fill="#111"/>
<polygon points="582.40,405.10 584.60,402.90 586.80,405.10 584.60,407.30" fill="#111"/>
<circle cx="378.70" cy="354.30" r="1.9" stroke="#333" stroke-width="0.8" fill="none"/>
<line x1="377.10" y1="354.30" x2="380.30" y2="354.30" stroke="#555" stroke-width="0.6" />
<circle cx="378.70" cy="399.30" r="1.9" stroke="#333" stroke-width="0.8" fill="none"/>
<line x1="377.10" y1="399.30" x2="380.30" y2="399.30" stroke="#555" stroke-width="0.6" />
<circle cx="586.60" cy="354.00" r="1.9" stroke="#333" stroke-width="0.8" fill="none"/>
<line x1="585.00" y1="354.00" x2="588.20" y2="354.00" stroke="#555" stroke-width="0.6" />
<circle cx="586.60" cy="399.10" r="1.9" stroke="#333" stroke-width="0.8" fill="none"/>
<line x1="585.00" y1="399.10" x2="588.20" y2="399.10" stroke="#555" stroke-width="0.6" />
<rect x="439.60" y="337.60" width="84.60" height="5.10" rx="0" stroke="#111" stroke-width="0.8" fill="none" />
<rect x="448.20" y="337.60" width="5.60" height="5.20" rx="0" fill="#111"/>
<rect x="525.00" y="338.20" width="4.60" height="4.60" rx="0" fill="#111"/>
<line x1="524.20" y1="342.70" x2="578.60" y2="342.70" stroke="#111" stroke-width="0.8" />
<line x1="566.50" y1="343.20" x2="572.00" y2="343.20" stroke="#222" stroke-width="1.0" />
<rect x="393.60" y="350.40" width="35.60" height="62.60" rx="2" stroke="#222" stroke-width="1.0" fill="none" />
<polygon points="397.40,350.70 399.40,348.70 401.40,350.70 399.40,352.70" fill="#111"/>
<polygon points="426.20,350.70 428.20,348.70 430.20,350.70 428.20,352.70" fill="#111"/>
<polygon points="392.60,402.00 394.60,400.00 396.60,402.00 394.60,404.00" fill="#111"/>
<polygon points="426.20,412.50 428.20,410.50 430.20,412.50 428.20,414.50" fill="#111"/>
<circle cx="395.20" cy="390.20" r="0.8" fill="#111"/>
<circle cx="427.60" cy="390.20" r="0.8" fill="#111"/>
<circle cx="395.40" cy="356.50" r="0.8" fill="#111"/>
<circle cx="427.40" cy="356.50" r="0.8" fill="#111"/>
<rect x="394.60" y="354.60" width="33.20" height="34.60" rx="9" stroke="#222" stroke-width="0.6" fill="url(#mesh2)" />
<circle cx="411.20" cy="371.90" r="8.5" stroke="#333" stroke-width="0.8" fill="none"/>
<rect x="398.10" y="395.10" width="10.00" height="13.50" rx="0" stroke="#444" stroke-width="1.5" fill="#f4f4f4" />
<rect x="400.60" y="398.40" width="1.20" height="7.00" rx="0" fill="#222"/>
<rect x="402.80" y="399.20" width="3.00" height="1.40" rx="0" fill="#222"/>
<rect x="402.80" y="403.20" width="3.00" height="1.40" rx="0" fill="#222"/>
<rect x="435.50" y="344.20" width="33.50" height="33.50" rx="4" stroke="#111" stroke-width="1.2" fill="url(#mesh)" />
<rect x="437.00" y="345.70" width="30.50" height="30.50" rx="3" stroke="#eee" stroke-width="0.6" fill="none" />
<circle cx="435.80" cy="344.50" r="1.2" fill="#111"/>
<circle cx="468.70" cy="344.50" r="1.2" fill="#111"/>
<circle cx="435.80" cy="377.40" r="1.2" fill="#111"/>
<circle cx="468.70" cy="377.40" r="1.2" fill="#111"/>
<rect x="472.60" y="344.20" width="33.50" height="33.50" rx="4" stroke="#111" stroke-width="1.2" fill="url(#mesh)" />
<rect x="474.10" y="345.70" width="30.50" height="30.50" rx="3" stroke="#eee" stroke-width="0.6" fill="none" />
<circle cx="472.90" cy="344.50" r="1.2" fill="#111"/>
<circle cx="505.80" cy="344.50" r="1.2" fill="#111"/>
<circle cx="472.90" cy="377.40" r="1.2" fill="#111"/>
<circle cx="505.80" cy="377.40" r="1.2" fill="#111"/>
<rect x="446.00" y="366.50" width="6.50" height="6.00" rx="0" fill="#111"/>
<rect x="480.50" y="347.50" width="5.50" height="5.00" rx="0" fill="#111"/>
<rect x="489.50" y="362.50" width="2.50" height="6.50" rx="0" fill="#111"/>
<rect x="470.50" y="380.20" width="34.50" height="6.80" rx="0" fill="#111"/>
<path d="M437.59999999999997 381.6 H448.8 L447.59999999999997 385.8 H438.8 Z" stroke="#111" stroke-width="1.0" fill="#777" />
<path d="M453.0 381.6 H464.20000000000005 L463.0 385.8 H454.20000000000005 Z" stroke="#111" stroke-width="1.0" fill="#777" />
<path d="M471.2 381.6 H482.40000000000003 L481.2 385.8 H472.40000000000003 Z" stroke="#111" stroke-width="1.0" fill="#777" />
<path d="M489.4 381.6 H500.6 L499.4 385.8 H490.6 Z" stroke="#111" stroke-width="1.0" fill="#777" />
<rect x="485.30" y="381.00" width="1.40" height="5.20" rx="0" fill="#ddd"/>
<rect x="435.00" y="379.60" width="70.50" height="7.70" rx="0" stroke="#ff1a1a" stroke-width="1.0" fill="none" />
<rect x="438.60" y="389.30" width="71.80" height="19.90" rx="0" stroke="#111" stroke-width="1.6" fill="#fff" />
<rect x="442.80" y="392.70" width="6.80" height="14.70" rx="0" fill="#111"/>
<rect x="453.30" y="393.70" width="11.70" height="4.50" rx="0" stroke="#111" stroke-width="1.0" fill="#666" />
<rect x="469.60" y="392.90" width="13.10" height="5.70" rx="0" stroke="#111" stroke-width="1.0" fill="#777" />
<rect x="452.40" y="401.00" width="14.40" height="6.80" rx="0" stroke="#111" stroke-width="0.9" fill="#ccc" />
<rect x="455.00" y="402.60" width="9.20" height="3.80" rx="0" fill="#222"/>
<rect x="472.60" y="403.60" width="7.00" height="3.00" rx="1.4" fill="#111"/>
<rect x="483.60" y="392.20" width="20.20" height="14.80" rx="0" fill="#111"/>
<rect x="483.20" y="391.80" width="20.90" height="15.50" rx="0" stroke="#ff1a1a" stroke-width="1.0" fill="none" />
<line x1="493.20" y1="391.80" x2="493.20" y2="407.30" stroke="#ff1a1a" stroke-width="1.0" />
<line x1="483.20" y1="399.20" x2="504.10" y2="399.20" stroke="#ff1a1a" stroke-width="1.0" />
<rect x="504.60" y="391.80" width="5.60" height="15.00" rx="0" stroke="#ff1a1a" stroke-width="1.0" fill="none" />
<circle cx="507.40" cy="394.30" r="1.6" stroke="#111" stroke-width="0.8" fill="#555"/>
<circle cx="507.40" cy="399.30" r="1.6" stroke="#111" stroke-width="0.8" fill="#555"/>
<circle cx="507.40" cy="404.30" r="1.6" stroke="#111" stroke-width="0.8" fill="#555"/>
<path d="M509.3 410 V362.4 Q509.3 359.9 511.8 359.9 H571.8 Q574.4 359.9 574.4 362.4 V410" stroke="#111" stroke-width="1.2" fill="none" />
<polygon points="515.30,357.20 517.30,355.20 519.30,357.20 517.30,359.20" fill="#111"/>
<polygon points="564.50,357.20 566.50,355.20 568.50,357.20 566.50,359.20" fill="#111"/>
<rect x="511.60" y="364.20" width="61.80" height="41.00" rx="0" fill="#111"/>
<line x1="510.00" y1="362.30" x2="574.00" y2="362.30" stroke="#555" stroke-width="0.6" />
<line x1="512.60" y1="360.40" x2="512.60" y2="364.40" stroke="#333" stroke-width="0.9" />
<line x1="521.72" y1="360.40" x2="521.72" y2="364.40" stroke="#333" stroke-width="0.9" />
<line x1="530.84" y1="360.40" x2="530.84" y2="364.40" stroke="#333" stroke-width="0.9" />
<line x1="539.96" y1="360.40" x2="539.96" y2="364.40" stroke="#333" stroke-width="0.9" />
<line x1="549.08" y1="360.40" x2="549.08" y2="364.40" stroke="#333" stroke-width="0.9" />
<line x1="558.20" y1="360.40" x2="558.20" y2="364.40" stroke="#333" stroke-width="0.9" />
<line x1="567.32" y1="360.40" x2="567.32" y2="364.40" stroke="#333" stroke-width="0.9" />
<line x1="576.44" y1="360.40" x2="576.44" y2="364.40" stroke="#333" stroke-width="0.9" />
<rect x="514.60" y="365.30" width="4.50" height="39.10" rx="1.0" fill="#fff"/>
<rect x="523.70" y="365.30" width="4.50" height="39.10" rx="1.0" fill="#fff"/>
<rect x="532.80" y="365.30" width="4.50" height="39.10" rx="1.0" fill="#fff"/>
<rect x="541.95" y="365.30" width="4.50" height="39.10" rx="1.0" fill="#fff"/>
<rect x="551.00" y="365.30" width="4.50" height="39.10" rx="1.0" fill="#fff"/>
<rect x="560.00" y="365.30" width="4.60" height="39.10" rx="1.0" fill="#fff"/>
<rect x="569.30" y="365.30" width="4.30" height="39.10" rx="1.0" fill="#fff"/>
<rect x="569.30" y="402.60" width="4.30" height="2.80" rx="0" fill="#999"/>
<rect x="560.60" y="377.80" width="3.60" height="12.60" rx="1.4" stroke="#111" stroke-width="1.0" fill="#555" />
<rect x="510.40" y="405.40" width="63.20" height="4.40" rx="0" fill="#e4e4e4"/>
<line x1="510.40" y1="405.60" x2="573.60" y2="405.60" stroke="#222" stroke-width="0.8" />
<rect x="512.20" y="408.60" width="3.00" height="1.20" rx="0" fill="#222"/>
<rect x="516.76" y="408.60" width="3.00" height="1.20" rx="0" fill="#222"/>
<rect x="521.32" y="408.60" width="3.00" height="1.20" rx="0" fill="#222"/>
<rect x="525.88" y="408.60" width="3.00" height="1.20" rx="0" fill="#222"/>
<rect x="530.44" y="408.60" width="3.00" height="1.20" rx="0" fill="#222"/>
<rect x="535.00" y="408.60" width="3.00" height="1.20" rx="0" fill="#222"/>
<rect x="539.56" y="408.60" width="3.00" height="1.20" rx="0" fill="#222"/>
<rect x="544.12" y="408.60" width="3.00" height="1.20" rx="0" fill="#222"/>
<rect x="548.68" y="408.60" width="3.00" height="1.20" rx="0" fill="#222"/>
<rect x="553.24" y="408.60" width="3.00" height="1.20" rx="0" fill="#222"/>
<rect x="557.80" y="408.60" width="3.00" height="1.20" rx="0" fill="#222"/>
<rect x="562.36" y="408.60" width="3.00" height="1.20" rx="0" fill="#222"/>
<rect x="566.92" y="408.60" width="3.00" height="1.20" rx="0" fill="#222"/>
<rect x="571.48" y="408.60" width="3.00" height="1.20" rx="0" fill="#222"/>
<line x1="509.30" y1="410.20" x2="574.40" y2="410.20" stroke="#111" stroke-width="1.0" />
<polygon points="506.50,413.50 508.10,411.90 509.70,413.50 508.10,415.10" fill="#111"/>
<polygon points="564.60,413.50 566.20,411.90 567.80,413.50 566.20,415.10" fill="#111"/>
<polygon points="569.10,413.50 570.70,411.90 572.30,413.50 570.70,415.10" fill="#111"/>
<polygon points="439.00,413.40 440.60,411.80 442.20,413.40 440.60,415.00" fill="#111"/>
<polygon points="428.00,411.60 429.60,410.00 431.20,411.60 429.60,413.20" fill="#111"/>
<rect x="573.80" y="411.60" width="2.60" height="2.80" rx="0" stroke="#111" stroke-width="0.6" fill="none" />
<line x1="403.00" y1="408.70" x2="403.00" y2="434.80" stroke="#ff1a1a" stroke-width="1.0" />
<path d="M435 383.5 H431.9 V434.8" stroke="#ff1a1a" stroke-width="1.0" fill="none" />
<path d="M442.8 396.4 H438.5 V434.8" stroke="#ff1a1a" stroke-width="1.0" fill="none" />
<line x1="446.30" y1="407.40" x2="446.30" y2="434.80" stroke="#ff1a1a" stroke-width="1.0" />
<line x1="458.70" y1="407.80" x2="458.70" y2="434.80" stroke="#ff1a1a" stroke-width="1.0" />
<path d="M458.7 399.2 H467.3 V434.8" stroke="#ff1a1a" stroke-width="1.0" fill="none" />
<line x1="475.60" y1="406.60" x2="475.60" y2="434.80" stroke="#ff1a1a" stroke-width="1.0" />
<path d="M475.4 399.5 H482.6 V434.8" stroke="#ff1a1a" stroke-width="1.0" fill="none" />
<line x1="493.10" y1="407.30" x2="493.10" y2="434.80" stroke="#ff1a1a" stroke-width="1.0" />
<line x1="504.00" y1="407.30" x2="504.00" y2="434.80" stroke="#ff1a1a" stroke-width="1.0" />
<path d="M510.4 406.8 V423 H526.4 V434.8" stroke="#ff1a1a" stroke-width="1.0" fill="none" />
<line x1="562.50" y1="390.60" x2="562.50" y2="434.80" stroke="#ff1a1a" stroke-width="1.0" />
<text class="t" x="398.60" y="449.70" font-size="16" textLength="5.80" lengthAdjust="spacingAndGlyphs" >1</text>
<text class="t" x="427.30" y="449.70" font-size="16" textLength="6.60" lengthAdjust="spacingAndGlyphs" >2</text>
<text class="t" x="433.90" y="449.70" font-size="16" textLength="6.60" lengthAdjust="spacingAndGlyphs" >3</text>
<text class="t" x="440.30" y="449.70" font-size="16" textLength="7.00" lengthAdjust="spacingAndGlyphs" >4</text>
<text class="t" x="454.20" y="449.70" font-size="16" textLength="6.80" lengthAdjust="spacingAndGlyphs" >5</text>
<text class="t" x="463.70" y="449.70" font-size="16" textLength="6.80" lengthAdjust="spacingAndGlyphs" >6</text>
<text class="t" x="472.40" y="449.70" font-size="16" textLength="6.60" lengthAdjust="spacingAndGlyphs" >7</text>
<text class="t" x="479.30" y="449.70" font-size="16" textLength="6.80" lengthAdjust="spacingAndGlyphs" >8</text>
<text class="t" x="490.10" y="449.70" font-size="16" textLength="6.80" lengthAdjust="spacingAndGlyphs" >9</text>
<text class="t" x="499.20" y="449.70" font-size="16" textLength="11.60" lengthAdjust="spacingAndGlyphs" >10</text>
<text class="t" x="519.00" y="449.70" font-size="16" textLength="11.40" lengthAdjust="spacingAndGlyphs" >11</text>
<text class="t" x="556.20" y="449.70" font-size="16" textLength="12.00" lengthAdjust="spacingAndGlyphs" >12</text>
</g>
<g filter="url(#soft2)"><text class="title" x="749.6" y="48.8" font-size="25" textLength="131.6" lengthAdjust="spacingAndGlyphs">IPC400-B75</text></g>
</svg>
</body>
</html>
